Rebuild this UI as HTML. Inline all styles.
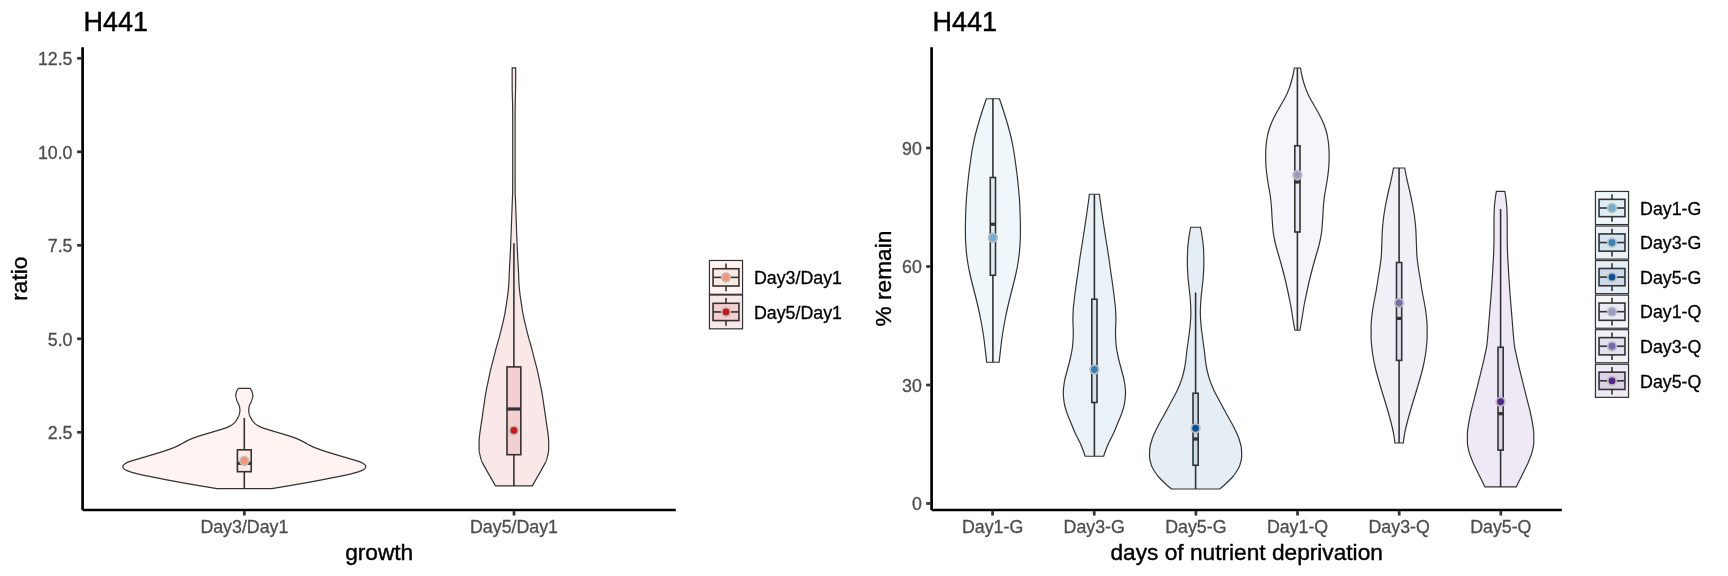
<!DOCTYPE html>
<html><head><meta charset="utf-8"><title>H441</title>
<style>html,body{margin:0;padding:0;background:#fff;}svg{display:block;will-change:transform;font-family:'Liberation Sans', sans-serif;}</style></head><body>
<svg width="1728" height="576" viewBox="0 0 1728 576">
<rect width="1728" height="576" fill="#ffffff"/>
<path d="M250.10,388.40 L250.68,389.15 L251.21,389.90 L251.65,390.65 L251.97,391.40 L252.19,392.15 L252.40,392.90 L252.58,393.65 L252.71,394.40 L252.79,395.15 L252.79,395.90 L252.72,396.65 L252.59,397.40 L252.41,398.15 L252.20,398.90 L251.96,399.65 L251.72,400.40 L251.48,401.15 L251.17,401.90 L250.79,402.65 L250.39,403.40 L250.00,404.15 L249.65,404.90 L249.39,405.65 L249.22,406.40 L249.06,407.15 L248.92,407.90 L248.81,408.65 L248.73,409.40 L248.70,410.15 L248.72,410.90 L248.79,411.65 L248.90,412.40 L249.04,413.15 L249.19,413.90 L249.36,414.65 L249.61,415.40 L249.93,416.15 L250.31,416.90 L250.72,417.65 L251.14,418.40 L251.56,419.15 L252.00,419.90 L252.48,420.65 L253.01,421.40 L253.61,422.15 L254.29,422.90 L255.11,423.65 L256.08,424.40 L257.18,425.15 L258.43,425.90 L259.81,426.65 L261.42,427.40 L263.46,428.15 L265.78,428.90 L268.19,429.65 L270.57,430.40 L273.06,431.15 L275.62,431.90 L278.19,432.65 L280.71,433.40 L283.26,434.15 L285.81,434.90 L288.26,435.65 L290.54,436.40 L292.70,437.15 L294.76,437.90 L296.70,438.65 L298.50,439.40 L300.13,440.15 L301.64,440.90 L303.07,441.65 L304.51,442.40 L305.92,443.15 L307.27,443.90 L308.60,444.65 L309.97,445.40 L311.43,446.15 L313.05,446.90 L314.83,447.65 L316.75,448.40 L318.79,449.15 L320.90,449.90 L323.06,450.65 L325.29,451.40 L327.63,452.15 L330.05,452.90 L332.52,453.65 L335.01,454.40 L337.50,455.15 L340.01,455.90 L342.57,456.65 L345.15,457.40 L347.70,458.15 L350.21,458.90 L352.71,459.65 L355.33,460.40 L357.86,461.15 L360.05,461.90 L361.74,462.65 L363.16,463.40 L364.24,464.15 L364.95,464.90 L365.52,465.65 L365.80,466.40 L365.68,467.15 L365.30,467.90 L364.78,468.65 L363.85,469.40 L362.51,470.15 L360.94,470.90 L358.93,471.65 L356.52,472.40 L353.85,473.15 L351.02,473.90 L347.89,474.65 L344.41,475.40 L340.70,476.15 L336.87,476.90 L333.05,477.65 L329.30,478.40 L325.49,479.15 L321.62,479.90 L317.69,480.65 L313.69,481.40 L309.63,482.15 L305.46,482.90 L301.19,483.65 L296.85,484.40 L292.49,485.15 L288.11,485.90 L283.69,486.65 L279.23,487.40 L274.73,488.15 L271.40,488.70 L217.20,488.70 L213.87,488.15 L209.37,487.40 L204.91,486.65 L200.49,485.90 L196.11,485.15 L191.75,484.40 L187.41,483.65 L183.14,482.90 L178.97,482.15 L174.91,481.40 L170.91,480.65 L166.98,479.90 L163.11,479.15 L159.30,478.40 L155.55,477.65 L151.73,476.90 L147.90,476.15 L144.19,475.40 L140.71,474.65 L137.58,473.90 L134.75,473.15 L132.08,472.40 L129.67,471.65 L127.66,470.90 L126.09,470.15 L124.75,469.40 L123.82,468.65 L123.30,467.90 L122.92,467.15 L122.80,466.40 L123.08,465.65 L123.65,464.90 L124.36,464.15 L125.44,463.40 L126.86,462.65 L128.55,461.90 L130.74,461.15 L133.27,460.40 L135.89,459.65 L138.39,458.90 L140.90,458.15 L143.45,457.40 L146.03,456.65 L148.59,455.90 L151.10,455.15 L153.59,454.40 L156.08,453.65 L158.55,452.90 L160.97,452.15 L163.31,451.40 L165.54,450.65 L167.70,449.90 L169.81,449.15 L171.85,448.40 L173.77,447.65 L175.55,446.90 L177.17,446.15 L178.63,445.40 L180.00,444.65 L181.33,443.90 L182.68,443.15 L184.09,442.40 L185.53,441.65 L186.96,440.90 L188.47,440.15 L190.10,439.40 L191.90,438.65 L193.84,437.90 L195.90,437.15 L198.06,436.40 L200.34,435.65 L202.79,434.90 L205.34,434.15 L207.89,433.40 L210.41,432.65 L212.98,431.90 L215.54,431.15 L218.03,430.40 L220.41,429.65 L222.82,428.90 L225.14,428.15 L227.18,427.40 L228.79,426.65 L230.17,425.90 L231.42,425.15 L232.52,424.40 L233.49,423.65 L234.31,422.90 L234.99,422.15 L235.59,421.40 L236.12,420.65 L236.60,419.90 L237.04,419.15 L237.46,418.40 L237.88,417.65 L238.29,416.90 L238.67,416.15 L238.99,415.40 L239.24,414.65 L239.41,413.90 L239.56,413.15 L239.70,412.40 L239.81,411.65 L239.88,410.90 L239.90,410.15 L239.87,409.40 L239.79,408.65 L239.68,407.90 L239.54,407.15 L239.38,406.40 L239.21,405.65 L238.95,404.90 L238.60,404.15 L238.21,403.40 L237.81,402.65 L237.43,401.90 L237.12,401.15 L236.88,400.40 L236.64,399.65 L236.40,398.90 L236.19,398.15 L236.01,397.40 L235.88,396.65 L235.81,395.90 L235.81,395.15 L235.89,394.40 L236.02,393.65 L236.20,392.90 L236.41,392.15 L236.63,391.40 L236.95,390.65 L237.39,389.90 L237.92,389.15 L238.50,388.40Z" fill="#fff4f1" stroke="#333333" stroke-width="1.2" stroke-linejoin="miter"/>
<path d="M244.30,418.10V449.80M244.30,471.70V488.70" stroke="#333333" stroke-width="1.6" fill="none"/>
<rect x="237.38" y="449.80" width="13.85" height="21.90" fill="#fee8e2" stroke="#333333" stroke-width="1.6"/>
<path d="M237.38,463.30H251.23" stroke="#333333" stroke-width="3.20" fill="none"/>
<circle cx="244.30" cy="460.80" r="4.3" fill="#fc9272" stroke="#bdbdbd" stroke-width="1.75"/>
<path d="M515.65,67.90 L515.65,68.65 L515.65,69.40 L515.65,70.15 L515.65,70.90 L515.65,71.65 L515.65,72.40 L515.65,73.15 L515.65,73.90 L515.65,74.65 L515.65,75.40 L515.65,76.15 L515.65,76.90 L515.65,77.65 L515.65,78.40 L515.65,79.15 L515.65,79.90 L515.65,80.65 L515.65,81.40 L515.65,82.15 L515.64,82.90 L515.64,83.65 L515.63,84.40 L515.63,85.15 L515.62,85.90 L515.61,86.65 L515.61,87.40 L515.60,88.15 L515.59,88.90 L515.58,89.65 L515.56,90.40 L515.55,91.15 L515.53,91.90 L515.51,92.65 L515.49,93.40 L515.47,94.15 L515.45,94.90 L515.43,95.65 L515.41,96.40 L515.40,97.15 L515.38,97.90 L515.36,98.65 L515.34,99.40 L515.31,100.15 L515.29,100.90 L515.27,101.65 L515.25,102.40 L515.23,103.15 L515.21,103.90 L515.20,104.65 L515.19,105.40 L515.18,106.15 L515.17,106.90 L515.16,107.65 L515.16,108.40 L515.15,109.15 L515.15,109.90 L515.14,110.65 L515.13,111.40 L515.13,112.15 L515.12,112.90 L515.12,113.65 L515.12,114.40 L515.11,115.15 L515.11,115.90 L515.11,116.65 L515.10,117.40 L515.10,118.15 L515.10,118.90 L515.10,119.65 L515.10,120.40 L515.10,121.15 L515.10,121.90 L515.10,122.65 L515.10,123.40 L515.10,124.15 L515.10,124.90 L515.10,125.65 L515.10,126.40 L515.10,127.15 L515.10,127.90 L515.10,128.65 L515.10,129.40 L515.10,130.15 L515.10,130.90 L515.10,131.65 L515.10,132.40 L515.10,133.15 L515.10,133.90 L515.10,134.65 L515.10,135.40 L515.10,136.15 L515.10,136.90 L515.10,137.65 L515.10,138.40 L515.10,139.15 L515.10,139.90 L515.10,140.65 L515.10,141.40 L515.10,142.15 L515.10,142.90 L515.10,143.65 L515.10,144.40 L515.10,145.15 L515.10,145.90 L515.10,146.65 L515.10,147.40 L515.10,148.15 L515.10,148.90 L515.10,149.65 L515.10,150.40 L515.10,151.15 L515.10,151.90 L515.10,152.65 L515.10,153.40 L515.10,154.15 L515.10,154.90 L515.10,155.65 L515.10,156.40 L515.10,157.15 L515.10,157.90 L515.10,158.65 L515.10,159.40 L515.10,160.15 L515.10,160.90 L515.10,161.65 L515.10,162.40 L515.10,163.15 L515.10,163.90 L515.10,164.65 L515.10,165.40 L515.10,166.15 L515.10,166.90 L515.10,167.65 L515.10,168.40 L515.10,169.15 L515.10,169.90 L515.10,170.65 L515.10,171.40 L515.10,172.15 L515.10,172.90 L515.10,173.65 L515.10,174.40 L515.10,175.15 L515.10,175.90 L515.10,176.65 L515.11,177.40 L515.11,178.15 L515.11,178.90 L515.11,179.65 L515.11,180.40 L515.11,181.15 L515.12,181.90 L515.12,182.65 L515.12,183.40 L515.12,184.15 L515.13,184.90 L515.13,185.65 L515.13,186.40 L515.13,187.15 L515.14,187.90 L515.14,188.65 L515.14,189.40 L515.15,190.15 L515.15,190.90 L515.16,191.65 L515.17,192.40 L515.19,193.15 L515.21,193.90 L515.23,194.65 L515.26,195.40 L515.29,196.15 L515.32,196.90 L515.35,197.65 L515.39,198.40 L515.42,199.15 L515.45,199.90 L515.48,200.65 L515.51,201.40 L515.53,202.15 L515.56,202.90 L515.59,203.65 L515.62,204.40 L515.65,205.15 L515.68,205.90 L515.70,206.65 L515.73,207.40 L515.76,208.15 L515.79,208.90 L515.82,209.65 L515.85,210.40 L515.88,211.15 L515.91,211.90 L515.94,212.65 L515.96,213.40 L515.99,214.15 L516.02,214.90 L516.04,215.65 L516.07,216.40 L516.10,217.15 L516.12,217.90 L516.15,218.65 L516.18,219.40 L516.20,220.15 L516.23,220.90 L516.26,221.65 L516.28,222.40 L516.31,223.15 L516.34,223.90 L516.36,224.65 L516.39,225.40 L516.42,226.15 L516.44,226.90 L516.47,227.65 L516.50,228.40 L516.52,229.15 L516.55,229.90 L516.58,230.65 L516.61,231.40 L516.64,232.15 L516.67,232.90 L516.69,233.65 L516.72,234.40 L516.75,235.15 L516.78,235.90 L516.81,236.65 L516.84,237.40 L516.87,238.15 L516.90,238.90 L516.93,239.65 L516.96,240.40 L516.99,241.15 L517.01,241.90 L517.04,242.65 L517.08,243.40 L517.11,244.15 L517.14,244.90 L517.17,245.65 L517.20,246.40 L517.23,247.15 L517.26,247.90 L517.29,248.65 L517.33,249.40 L517.36,250.15 L517.39,250.90 L517.43,251.65 L517.46,252.40 L517.49,253.15 L517.53,253.90 L517.56,254.65 L517.60,255.40 L517.64,256.15 L517.68,256.90 L517.72,257.65 L517.76,258.40 L517.80,259.15 L517.84,259.90 L517.89,260.65 L517.93,261.40 L517.97,262.15 L518.02,262.90 L518.06,263.65 L518.10,264.40 L518.15,265.15 L518.19,265.90 L518.23,266.65 L518.27,267.40 L518.31,268.15 L518.35,268.90 L518.39,269.65 L518.43,270.40 L518.46,271.15 L518.50,271.90 L518.53,272.65 L518.57,273.40 L518.60,274.15 L518.63,274.90 L518.65,275.65 L518.67,276.40 L518.70,277.15 L518.72,277.90 L518.75,278.65 L518.77,279.40 L518.81,280.15 L518.84,280.90 L518.88,281.65 L518.93,282.40 L518.97,283.15 L519.02,283.90 L519.08,284.65 L519.13,285.40 L519.19,286.15 L519.25,286.90 L519.32,287.65 L519.38,288.40 L519.45,289.15 L519.52,289.90 L519.59,290.65 L519.66,291.40 L519.74,292.15 L519.82,292.90 L519.91,293.65 L520.00,294.40 L520.10,295.15 L520.20,295.90 L520.31,296.65 L520.42,297.40 L520.53,298.15 L520.64,298.90 L520.76,299.65 L520.87,300.40 L520.98,301.15 L521.10,301.90 L521.21,302.65 L521.32,303.40 L521.43,304.15 L521.54,304.90 L521.65,305.65 L521.76,306.40 L521.88,307.15 L521.99,307.90 L522.11,308.65 L522.23,309.40 L522.35,310.15 L522.47,310.90 L522.60,311.65 L522.73,312.40 L522.86,313.15 L523.00,313.90 L523.14,314.65 L523.29,315.40 L523.44,316.15 L523.60,316.90 L523.77,317.65 L523.93,318.40 L524.10,319.15 L524.27,319.90 L524.45,320.65 L524.62,321.40 L524.80,322.15 L524.98,322.90 L525.16,323.65 L525.34,324.40 L525.51,325.15 L525.69,325.90 L525.87,326.65 L526.04,327.40 L526.22,328.15 L526.41,328.90 L526.59,329.65 L526.77,330.40 L526.96,331.15 L527.14,331.90 L527.33,332.65 L527.52,333.40 L527.71,334.15 L527.91,334.90 L528.10,335.65 L528.30,336.40 L528.50,337.15 L528.71,337.90 L528.91,338.65 L529.13,339.40 L529.34,340.15 L529.56,340.90 L529.78,341.65 L530.00,342.40 L530.21,343.15 L530.43,343.90 L530.65,344.65 L530.86,345.40 L531.07,346.15 L531.28,346.90 L531.49,347.65 L531.69,348.40 L531.89,349.15 L532.08,349.90 L532.28,350.65 L532.47,351.40 L532.66,352.15 L532.85,352.90 L533.04,353.65 L533.23,354.40 L533.42,355.15 L533.61,355.90 L533.80,356.65 L533.99,357.40 L534.18,358.15 L534.37,358.90 L534.57,359.65 L534.76,360.40 L534.96,361.15 L535.16,361.90 L535.36,362.65 L535.55,363.40 L535.75,364.15 L535.95,364.90 L536.15,365.65 L536.34,366.40 L536.53,367.15 L536.72,367.90 L536.91,368.65 L537.09,369.40 L537.27,370.15 L537.44,370.90 L537.61,371.65 L537.78,372.40 L537.94,373.15 L538.10,373.90 L538.26,374.65 L538.42,375.40 L538.58,376.15 L538.73,376.90 L538.89,377.65 L539.04,378.40 L539.19,379.15 L539.35,379.90 L539.50,380.65 L539.66,381.40 L539.81,382.15 L539.97,382.90 L540.13,383.65 L540.29,384.40 L540.45,385.15 L540.61,385.90 L540.77,386.65 L540.93,387.40 L541.09,388.15 L541.24,388.90 L541.39,389.65 L541.54,390.40 L541.68,391.15 L541.82,391.90 L541.96,392.65 L542.09,393.40 L542.21,394.15 L542.33,394.90 L542.45,395.65 L542.56,396.40 L542.67,397.15 L542.78,397.90 L542.89,398.65 L543.00,399.40 L543.11,400.15 L543.21,400.90 L543.32,401.65 L543.43,402.40 L543.54,403.15 L543.65,403.90 L543.77,404.65 L543.89,405.40 L544.01,406.15 L544.12,406.90 L544.24,407.65 L544.36,408.40 L544.47,409.15 L544.59,409.90 L544.69,410.65 L544.80,411.40 L544.90,412.15 L545.00,412.90 L545.10,413.65 L545.19,414.40 L545.29,415.15 L545.39,415.90 L545.49,416.65 L545.60,417.40 L545.71,418.15 L545.82,418.90 L545.93,419.65 L546.05,420.40 L546.16,421.15 L546.28,421.90 L546.40,422.65 L546.51,423.40 L546.63,424.15 L546.74,424.90 L546.85,425.65 L546.96,426.40 L547.07,427.15 L547.18,427.90 L547.29,428.65 L547.40,429.40 L547.51,430.15 L547.62,430.90 L547.73,431.65 L547.83,432.40 L547.92,433.15 L548.01,433.90 L548.09,434.65 L548.18,435.40 L548.26,436.15 L548.35,436.90 L548.43,437.65 L548.51,438.40 L548.58,439.15 L548.64,439.90 L548.68,440.65 L548.70,441.40 L548.70,442.15 L548.70,442.90 L548.70,443.65 L548.70,444.40 L548.70,445.15 L548.70,445.90 L548.70,446.65 L548.70,447.40 L548.70,448.15 L548.70,448.90 L548.67,449.65 L548.62,450.40 L548.54,451.15 L548.44,451.90 L548.32,452.65 L548.18,453.40 L548.02,454.15 L547.85,454.90 L547.67,455.65 L547.49,456.40 L547.29,457.15 L547.09,457.90 L546.89,458.65 L546.69,459.40 L546.44,460.15 L546.16,460.90 L545.85,461.65 L545.51,462.40 L545.14,463.15 L544.75,463.90 L544.35,464.65 L543.93,465.40 L543.51,466.15 L543.08,466.90 L542.66,467.65 L542.24,468.40 L541.83,469.15 L541.43,469.90 L541.03,470.65 L540.61,471.40 L540.19,472.15 L539.76,472.90 L539.32,473.65 L538.89,474.40 L538.45,475.15 L538.01,475.90 L537.58,476.65 L537.14,477.40 L536.71,478.15 L536.29,478.90 L535.86,479.65 L535.43,480.40 L535.01,481.15 L534.58,481.90 L534.15,482.65 L533.72,483.40 L533.30,484.15 L532.87,484.90 L532.44,485.65 L532.30,485.90 L495.50,485.90 L495.36,485.65 L494.93,484.90 L494.50,484.15 L494.08,483.40 L493.65,482.65 L493.22,481.90 L492.79,481.15 L492.37,480.40 L491.94,479.65 L491.51,478.90 L491.09,478.15 L490.66,477.40 L490.22,476.65 L489.79,475.90 L489.35,475.15 L488.91,474.40 L488.48,473.65 L488.04,472.90 L487.61,472.15 L487.19,471.40 L486.77,470.65 L486.37,469.90 L485.97,469.15 L485.56,468.40 L485.14,467.65 L484.72,466.90 L484.29,466.15 L483.87,465.40 L483.45,464.65 L483.05,463.90 L482.66,463.15 L482.29,462.40 L481.95,461.65 L481.64,460.90 L481.36,460.15 L481.11,459.40 L480.91,458.65 L480.71,457.90 L480.51,457.15 L480.31,456.40 L480.13,455.65 L479.95,454.90 L479.78,454.15 L479.62,453.40 L479.48,452.65 L479.36,451.90 L479.26,451.15 L479.18,450.40 L479.13,449.65 L479.10,448.90 L479.10,448.15 L479.10,447.40 L479.10,446.65 L479.10,445.90 L479.10,445.15 L479.10,444.40 L479.10,443.65 L479.10,442.90 L479.10,442.15 L479.10,441.40 L479.12,440.65 L479.16,439.90 L479.22,439.15 L479.29,438.40 L479.37,437.65 L479.45,436.90 L479.54,436.15 L479.62,435.40 L479.71,434.65 L479.79,433.90 L479.88,433.15 L479.97,432.40 L480.07,431.65 L480.18,430.90 L480.29,430.15 L480.40,429.40 L480.51,428.65 L480.62,427.90 L480.73,427.15 L480.84,426.40 L480.95,425.65 L481.06,424.90 L481.17,424.15 L481.29,423.40 L481.40,422.65 L481.52,421.90 L481.64,421.15 L481.75,420.40 L481.87,419.65 L481.98,418.90 L482.09,418.15 L482.20,417.40 L482.31,416.65 L482.41,415.90 L482.51,415.15 L482.61,414.40 L482.70,413.65 L482.80,412.90 L482.90,412.15 L483.00,411.40 L483.11,410.65 L483.21,409.90 L483.33,409.15 L483.44,408.40 L483.56,407.65 L483.68,406.90 L483.79,406.15 L483.91,405.40 L484.03,404.65 L484.15,403.90 L484.26,403.15 L484.37,402.40 L484.48,401.65 L484.59,400.90 L484.69,400.15 L484.80,399.40 L484.91,398.65 L485.02,397.90 L485.13,397.15 L485.24,396.40 L485.35,395.65 L485.47,394.90 L485.59,394.15 L485.71,393.40 L485.84,392.65 L485.98,391.90 L486.12,391.15 L486.26,390.40 L486.41,389.65 L486.56,388.90 L486.71,388.15 L486.87,387.40 L487.03,386.65 L487.19,385.90 L487.35,385.15 L487.51,384.40 L487.67,383.65 L487.83,382.90 L487.99,382.15 L488.14,381.40 L488.30,380.65 L488.45,379.90 L488.61,379.15 L488.76,378.40 L488.91,377.65 L489.07,376.90 L489.22,376.15 L489.38,375.40 L489.54,374.65 L489.70,373.90 L489.86,373.15 L490.02,372.40 L490.19,371.65 L490.36,370.90 L490.53,370.15 L490.71,369.40 L490.89,368.65 L491.08,367.90 L491.27,367.15 L491.46,366.40 L491.65,365.65 L491.85,364.90 L492.05,364.15 L492.25,363.40 L492.44,362.65 L492.64,361.90 L492.84,361.15 L493.04,360.40 L493.23,359.65 L493.43,358.90 L493.62,358.15 L493.81,357.40 L494.00,356.65 L494.19,355.90 L494.38,355.15 L494.57,354.40 L494.76,353.65 L494.95,352.90 L495.14,352.15 L495.33,351.40 L495.52,350.65 L495.72,349.90 L495.91,349.15 L496.11,348.40 L496.31,347.65 L496.52,346.90 L496.73,346.15 L496.94,345.40 L497.15,344.65 L497.37,343.90 L497.59,343.15 L497.80,342.40 L498.02,341.65 L498.24,340.90 L498.46,340.15 L498.67,339.40 L498.89,338.65 L499.09,337.90 L499.30,337.15 L499.50,336.40 L499.70,335.65 L499.89,334.90 L500.09,334.15 L500.28,333.40 L500.47,332.65 L500.66,331.90 L500.84,331.15 L501.03,330.40 L501.21,329.65 L501.39,328.90 L501.58,328.15 L501.76,327.40 L501.93,326.65 L502.11,325.90 L502.29,325.15 L502.46,324.40 L502.64,323.65 L502.82,322.90 L503.00,322.15 L503.18,321.40 L503.35,320.65 L503.53,319.90 L503.70,319.15 L503.87,318.40 L504.03,317.65 L504.20,316.90 L504.36,316.15 L504.51,315.40 L504.66,314.65 L504.80,313.90 L504.94,313.15 L505.07,312.40 L505.20,311.65 L505.33,310.90 L505.45,310.15 L505.57,309.40 L505.69,308.65 L505.81,307.90 L505.92,307.15 L506.04,306.40 L506.15,305.65 L506.26,304.90 L506.37,304.15 L506.48,303.40 L506.59,302.65 L506.70,301.90 L506.82,301.15 L506.93,300.40 L507.04,299.65 L507.16,298.90 L507.27,298.15 L507.38,297.40 L507.49,296.65 L507.60,295.90 L507.70,295.15 L507.80,294.40 L507.89,293.65 L507.98,292.90 L508.06,292.15 L508.14,291.40 L508.21,290.65 L508.28,289.90 L508.35,289.15 L508.42,288.40 L508.48,287.65 L508.55,286.90 L508.61,286.15 L508.67,285.40 L508.72,284.65 L508.78,283.90 L508.83,283.15 L508.87,282.40 L508.92,281.65 L508.96,280.90 L508.99,280.15 L509.03,279.40 L509.05,278.65 L509.08,277.90 L509.10,277.15 L509.13,276.40 L509.15,275.65 L509.17,274.90 L509.20,274.15 L509.23,273.40 L509.27,272.65 L509.30,271.90 L509.34,271.15 L509.37,270.40 L509.41,269.65 L509.45,268.90 L509.49,268.15 L509.53,267.40 L509.57,266.65 L509.61,265.90 L509.65,265.15 L509.70,264.40 L509.74,263.65 L509.78,262.90 L509.83,262.15 L509.87,261.40 L509.91,260.65 L509.96,259.90 L510.00,259.15 L510.04,258.40 L510.08,257.65 L510.12,256.90 L510.16,256.15 L510.20,255.40 L510.24,254.65 L510.27,253.90 L510.31,253.15 L510.34,252.40 L510.37,251.65 L510.41,250.90 L510.44,250.15 L510.47,249.40 L510.51,248.65 L510.54,247.90 L510.57,247.15 L510.60,246.40 L510.63,245.65 L510.66,244.90 L510.69,244.15 L510.72,243.40 L510.76,242.65 L510.79,241.90 L510.81,241.15 L510.84,240.40 L510.87,239.65 L510.90,238.90 L510.93,238.15 L510.96,237.40 L510.99,236.65 L511.02,235.90 L511.05,235.15 L511.08,234.40 L511.11,233.65 L511.13,232.90 L511.16,232.15 L511.19,231.40 L511.22,230.65 L511.25,229.90 L511.28,229.15 L511.30,228.40 L511.33,227.65 L511.36,226.90 L511.38,226.15 L511.41,225.40 L511.44,224.65 L511.46,223.90 L511.49,223.15 L511.52,222.40 L511.54,221.65 L511.57,220.90 L511.60,220.15 L511.62,219.40 L511.65,218.65 L511.68,217.90 L511.70,217.15 L511.73,216.40 L511.76,215.65 L511.78,214.90 L511.81,214.15 L511.84,213.40 L511.86,212.65 L511.89,211.90 L511.92,211.15 L511.95,210.40 L511.98,209.65 L512.01,208.90 L512.04,208.15 L512.07,207.40 L512.10,206.65 L512.12,205.90 L512.15,205.15 L512.18,204.40 L512.21,203.65 L512.24,202.90 L512.27,202.15 L512.29,201.40 L512.32,200.65 L512.35,199.90 L512.38,199.15 L512.41,198.40 L512.45,197.65 L512.48,196.90 L512.51,196.15 L512.54,195.40 L512.57,194.65 L512.59,193.90 L512.61,193.15 L512.63,192.40 L512.64,191.65 L512.65,190.90 L512.65,190.15 L512.66,189.40 L512.66,188.65 L512.66,187.90 L512.67,187.15 L512.67,186.40 L512.67,185.65 L512.67,184.90 L512.68,184.15 L512.68,183.40 L512.68,182.65 L512.68,181.90 L512.69,181.15 L512.69,180.40 L512.69,179.65 L512.69,178.90 L512.69,178.15 L512.69,177.40 L512.70,176.65 L512.70,175.90 L512.70,175.15 L512.70,174.40 L512.70,173.65 L512.70,172.90 L512.70,172.15 L512.70,171.40 L512.70,170.65 L512.70,169.90 L512.70,169.15 L512.70,168.40 L512.70,167.65 L512.70,166.90 L512.70,166.15 L512.70,165.40 L512.70,164.65 L512.70,163.90 L512.70,163.15 L512.70,162.40 L512.70,161.65 L512.70,160.90 L512.70,160.15 L512.70,159.40 L512.70,158.65 L512.70,157.90 L512.70,157.15 L512.70,156.40 L512.70,155.65 L512.70,154.90 L512.70,154.15 L512.70,153.40 L512.70,152.65 L512.70,151.90 L512.70,151.15 L512.70,150.40 L512.70,149.65 L512.70,148.90 L512.70,148.15 L512.70,147.40 L512.70,146.65 L512.70,145.90 L512.70,145.15 L512.70,144.40 L512.70,143.65 L512.70,142.90 L512.70,142.15 L512.70,141.40 L512.70,140.65 L512.70,139.90 L512.70,139.15 L512.70,138.40 L512.70,137.65 L512.70,136.90 L512.70,136.15 L512.70,135.40 L512.70,134.65 L512.70,133.90 L512.70,133.15 L512.70,132.40 L512.70,131.65 L512.70,130.90 L512.70,130.15 L512.70,129.40 L512.70,128.65 L512.70,127.90 L512.70,127.15 L512.70,126.40 L512.70,125.65 L512.70,124.90 L512.70,124.15 L512.70,123.40 L512.70,122.65 L512.70,121.90 L512.70,121.15 L512.70,120.40 L512.70,119.65 L512.70,118.90 L512.70,118.15 L512.70,117.40 L512.69,116.65 L512.69,115.90 L512.69,115.15 L512.68,114.40 L512.68,113.65 L512.68,112.90 L512.67,112.15 L512.67,111.40 L512.66,110.65 L512.65,109.90 L512.65,109.15 L512.64,108.40 L512.64,107.65 L512.63,106.90 L512.62,106.15 L512.61,105.40 L512.60,104.65 L512.59,103.90 L512.57,103.15 L512.55,102.40 L512.53,101.65 L512.51,100.90 L512.49,100.15 L512.46,99.40 L512.44,98.65 L512.42,97.90 L512.40,97.15 L512.39,96.40 L512.37,95.65 L512.35,94.90 L512.33,94.15 L512.31,93.40 L512.29,92.65 L512.27,91.90 L512.25,91.15 L512.24,90.40 L512.22,89.65 L512.21,88.90 L512.20,88.15 L512.19,87.40 L512.19,86.65 L512.18,85.90 L512.17,85.15 L512.17,84.40 L512.16,83.65 L512.16,82.90 L512.15,82.15 L512.15,81.40 L512.15,80.65 L512.15,79.90 L512.15,79.15 L512.15,78.40 L512.15,77.65 L512.15,76.90 L512.15,76.15 L512.15,75.40 L512.15,74.65 L512.15,73.90 L512.15,73.15 L512.15,72.40 L512.15,71.65 L512.15,70.90 L512.15,70.15 L512.15,69.40 L512.15,68.65 L512.15,67.90Z" fill="#fae8e8" stroke="#333333" stroke-width="1.2" stroke-linejoin="miter"/>
<path d="M513.90,243.30V366.90M513.90,454.70V485.90" stroke="#333333" stroke-width="1.6" fill="none"/>
<rect x="506.97" y="366.90" width="13.85" height="87.80" fill="#f4cfd0" stroke="#333333" stroke-width="1.6"/>
<path d="M506.97,409.00H520.82" stroke="#333333" stroke-width="3.20" fill="none"/>
<circle cx="513.90" cy="430.40" r="4.3" fill="#cb181d" stroke="#bdbdbd" stroke-width="1.75"/>
<path d="M82.60,47.20V510.00" stroke="#000" stroke-width="2.7" fill="none"/>
<path d="M82.60,510.00H675.80" stroke="#000" stroke-width="2.7" fill="none"/>
<path d="M77.15,58.30H81.55" stroke="#333333" stroke-width="2.7" fill="none"/>
<text x="72.50" y="65.10" font-size="17.8" fill="#4d4d4d" stroke="#4d4d4d" stroke-width="0.3" text-anchor="end">12.5</text>
<path d="M77.15,151.80H81.55" stroke="#333333" stroke-width="2.7" fill="none"/>
<text x="72.50" y="158.60" font-size="17.8" fill="#4d4d4d" stroke="#4d4d4d" stroke-width="0.3" text-anchor="end">10.0</text>
<path d="M77.15,245.30H81.55" stroke="#333333" stroke-width="2.7" fill="none"/>
<text x="72.50" y="252.10" font-size="17.8" fill="#4d4d4d" stroke="#4d4d4d" stroke-width="0.3" text-anchor="end">7.5</text>
<path d="M77.15,338.80H81.55" stroke="#333333" stroke-width="2.7" fill="none"/>
<text x="72.50" y="345.60" font-size="17.8" fill="#4d4d4d" stroke="#4d4d4d" stroke-width="0.3" text-anchor="end">5.0</text>
<path d="M77.15,432.30H81.55" stroke="#333333" stroke-width="2.7" fill="none"/>
<text x="72.50" y="439.10" font-size="17.8" fill="#4d4d4d" stroke="#4d4d4d" stroke-width="0.3" text-anchor="end">2.5</text>
<path d="M244.38,511.05V515.55" stroke="#333333" stroke-width="2.7" fill="none"/>
<text x="244.38" y="532.90" font-size="17.8" fill="#4d4d4d" stroke="#4d4d4d" stroke-width="0.3" text-anchor="middle">Day3/Day1</text>
<path d="M514.02,511.05V515.55" stroke="#333333" stroke-width="2.7" fill="none"/>
<text x="514.02" y="532.90" font-size="17.8" fill="#4d4d4d" stroke="#4d4d4d" stroke-width="0.3" text-anchor="middle">Day5/Day1</text>
<text x="83.40" y="30.90" font-size="27.0" fill="#000" stroke="#000" stroke-width="0.4" text-anchor="start">H441</text>
<text x="379.20" y="559.70" font-size="22.7" fill="#000" stroke="#000" stroke-width="0.4" text-anchor="middle">growth</text>
<text x="27.10" y="278.60" font-size="22.7" fill="#000" stroke="#000" stroke-width="0.4" text-anchor="middle" transform="rotate(-90 27.10 278.60)">ratio</text>
<rect x="709.45" y="260.48" width="33.10" height="33.80" fill="#fff4f1" stroke="#333333" stroke-width="1.2"/>
<path d="M726.00,263.56V268.74M726.00,286.02V291.20" stroke="#333333" stroke-width="1.6" fill="none"/>
<rect x="713.04" y="268.74" width="25.92" height="17.28" fill="#fee8e2" stroke="#333333" stroke-width="1.6"/>
<path d="M713.04,277.38H738.96" stroke="#333333" stroke-width="1.6" fill="none"/>
<circle cx="726.00" cy="277.38" r="4.3" fill="#fc9272" stroke="#bdbdbd" stroke-width="1.75"/>
<text x="754.00" y="284.13" font-size="17.8" fill="#000" stroke="#000" stroke-width="0.3" text-anchor="start">Day3/Day1</text>
<rect x="709.45" y="295.04" width="33.10" height="33.80" fill="#fae8e8" stroke="#333333" stroke-width="1.2"/>
<path d="M726.00,298.12V303.30M726.00,320.58V325.76" stroke="#333333" stroke-width="1.6" fill="none"/>
<rect x="713.04" y="303.30" width="25.92" height="17.28" fill="#f4cfd0" stroke="#333333" stroke-width="1.6"/>
<path d="M713.04,311.94H738.96" stroke="#333333" stroke-width="1.6" fill="none"/>
<circle cx="726.00" cy="311.94" r="4.3" fill="#cb181d" stroke="#bdbdbd" stroke-width="1.75"/>
<text x="754.00" y="318.69" font-size="17.8" fill="#000" stroke="#000" stroke-width="0.3" text-anchor="start">Day5/Day1</text>
<path d="M999.40,98.75 L999.66,99.50 L999.93,100.25 L1000.19,101.00 L1000.45,101.75 L1000.70,102.50 L1000.96,103.25 L1001.22,104.00 L1001.47,104.75 L1001.72,105.50 L1001.97,106.25 L1002.22,107.00 L1002.47,107.75 L1002.72,108.50 L1002.96,109.25 L1003.21,110.00 L1003.45,110.75 L1003.69,111.50 L1003.93,112.25 L1004.17,113.00 L1004.41,113.75 L1004.64,114.50 L1004.88,115.25 L1005.11,116.00 L1005.34,116.75 L1005.58,117.50 L1005.81,118.25 L1006.03,119.00 L1006.26,119.75 L1006.49,120.50 L1006.71,121.25 L1006.94,122.00 L1007.16,122.75 L1007.37,123.50 L1007.59,124.25 L1007.80,125.00 L1008.02,125.75 L1008.23,126.50 L1008.43,127.25 L1008.64,128.00 L1008.84,128.75 L1009.04,129.50 L1009.24,130.25 L1009.44,131.00 L1009.64,131.75 L1009.84,132.50 L1010.04,133.25 L1010.23,134.00 L1010.42,134.75 L1010.60,135.50 L1010.79,136.25 L1010.97,137.00 L1011.15,137.75 L1011.32,138.50 L1011.49,139.25 L1011.65,140.00 L1011.81,140.75 L1011.97,141.50 L1012.12,142.25 L1012.28,143.00 L1012.42,143.75 L1012.57,144.50 L1012.72,145.25 L1012.86,146.00 L1013.00,146.75 L1013.14,147.50 L1013.27,148.25 L1013.41,149.00 L1013.54,149.75 L1013.67,150.50 L1013.79,151.25 L1013.92,152.00 L1014.04,152.75 L1014.16,153.50 L1014.28,154.25 L1014.39,155.00 L1014.51,155.75 L1014.62,156.50 L1014.73,157.25 L1014.84,158.00 L1014.94,158.75 L1015.05,159.50 L1015.15,160.25 L1015.26,161.00 L1015.36,161.75 L1015.46,162.50 L1015.56,163.25 L1015.66,164.00 L1015.77,164.75 L1015.87,165.50 L1015.97,166.25 L1016.07,167.00 L1016.17,167.75 L1016.27,168.50 L1016.37,169.25 L1016.47,170.00 L1016.57,170.75 L1016.67,171.50 L1016.77,172.25 L1016.86,173.00 L1016.95,173.75 L1017.05,174.50 L1017.14,175.25 L1017.23,176.00 L1017.31,176.75 L1017.40,177.50 L1017.48,178.25 L1017.57,179.00 L1017.65,179.75 L1017.73,180.50 L1017.81,181.25 L1017.88,182.00 L1017.96,182.75 L1018.04,183.50 L1018.11,184.25 L1018.18,185.00 L1018.26,185.75 L1018.33,186.50 L1018.40,187.25 L1018.47,188.00 L1018.54,188.75 L1018.61,189.50 L1018.67,190.25 L1018.74,191.00 L1018.81,191.75 L1018.87,192.50 L1018.94,193.25 L1019.01,194.00 L1019.08,194.75 L1019.14,195.50 L1019.21,196.25 L1019.27,197.00 L1019.33,197.75 L1019.39,198.50 L1019.44,199.25 L1019.50,200.00 L1019.55,200.75 L1019.59,201.50 L1019.64,202.25 L1019.68,203.00 L1019.72,203.75 L1019.75,204.50 L1019.79,205.25 L1019.82,206.00 L1019.86,206.75 L1019.89,207.50 L1019.92,208.25 L1019.95,209.00 L1019.98,209.75 L1020.01,210.50 L1020.03,211.25 L1020.06,212.00 L1020.08,212.75 L1020.11,213.50 L1020.13,214.25 L1020.15,215.00 L1020.17,215.75 L1020.19,216.50 L1020.21,217.25 L1020.23,218.00 L1020.25,218.75 L1020.27,219.50 L1020.29,220.25 L1020.31,221.00 L1020.33,221.75 L1020.34,222.50 L1020.36,223.25 L1020.37,224.00 L1020.38,224.75 L1020.39,225.50 L1020.40,226.25 L1020.40,227.00 L1020.40,227.75 L1020.40,228.50 L1020.40,229.25 L1020.39,230.00 L1020.39,230.75 L1020.38,231.50 L1020.38,232.25 L1020.37,233.00 L1020.36,233.75 L1020.36,234.50 L1020.35,235.25 L1020.34,236.00 L1020.33,236.75 L1020.32,237.50 L1020.30,238.25 L1020.29,239.00 L1020.27,239.75 L1020.25,240.50 L1020.21,241.25 L1020.18,242.00 L1020.14,242.75 L1020.09,243.50 L1020.04,244.25 L1019.99,245.00 L1019.94,245.75 L1019.88,246.50 L1019.82,247.25 L1019.76,248.00 L1019.69,248.75 L1019.63,249.50 L1019.56,250.25 L1019.50,251.00 L1019.43,251.75 L1019.36,252.50 L1019.29,253.25 L1019.21,254.00 L1019.12,254.75 L1019.03,255.50 L1018.94,256.25 L1018.84,257.00 L1018.74,257.75 L1018.64,258.50 L1018.54,259.25 L1018.43,260.00 L1018.32,260.75 L1018.21,261.50 L1018.09,262.25 L1017.98,263.00 L1017.86,263.75 L1017.74,264.50 L1017.61,265.25 L1017.48,266.00 L1017.34,266.75 L1017.20,267.50 L1017.05,268.25 L1016.90,269.00 L1016.75,269.75 L1016.60,270.50 L1016.44,271.25 L1016.28,272.00 L1016.12,272.75 L1015.95,273.50 L1015.79,274.25 L1015.62,275.00 L1015.46,275.75 L1015.29,276.50 L1015.12,277.25 L1014.94,278.00 L1014.76,278.75 L1014.58,279.50 L1014.40,280.25 L1014.21,281.00 L1014.02,281.75 L1013.83,282.50 L1013.64,283.25 L1013.45,284.00 L1013.25,284.75 L1013.06,285.50 L1012.87,286.25 L1012.68,287.00 L1012.49,287.75 L1012.30,288.50 L1012.11,289.25 L1011.92,290.00 L1011.73,290.75 L1011.54,291.50 L1011.35,292.25 L1011.16,293.00 L1010.96,293.75 L1010.77,294.50 L1010.58,295.25 L1010.39,296.00 L1010.20,296.75 L1010.01,297.50 L1009.82,298.25 L1009.64,299.00 L1009.45,299.75 L1009.27,300.50 L1009.09,301.25 L1008.91,302.00 L1008.73,302.75 L1008.55,303.50 L1008.38,304.25 L1008.20,305.00 L1008.02,305.75 L1007.85,306.50 L1007.68,307.25 L1007.50,308.00 L1007.33,308.75 L1007.17,309.50 L1007.00,310.25 L1006.83,311.00 L1006.67,311.75 L1006.51,312.50 L1006.35,313.25 L1006.20,314.00 L1006.04,314.75 L1005.89,315.50 L1005.74,316.25 L1005.59,317.00 L1005.44,317.75 L1005.29,318.50 L1005.14,319.25 L1005.00,320.00 L1004.86,320.75 L1004.71,321.50 L1004.57,322.25 L1004.44,323.00 L1004.30,323.75 L1004.17,324.50 L1004.03,325.25 L1003.90,326.00 L1003.77,326.75 L1003.64,327.50 L1003.51,328.25 L1003.38,329.00 L1003.26,329.75 L1003.13,330.50 L1003.01,331.25 L1002.88,332.00 L1002.76,332.75 L1002.64,333.50 L1002.52,334.25 L1002.41,335.00 L1002.29,335.75 L1002.18,336.50 L1002.08,337.25 L1001.97,338.00 L1001.87,338.75 L1001.77,339.50 L1001.67,340.25 L1001.57,341.00 L1001.48,341.75 L1001.38,342.50 L1001.29,343.25 L1001.20,344.00 L1001.12,344.75 L1001.03,345.50 L1000.94,346.25 L1000.86,347.00 L1000.77,347.75 L1000.69,348.50 L1000.60,349.25 L1000.51,350.00 L1000.43,350.75 L1000.34,351.50 L1000.26,352.25 L1000.17,353.00 L1000.09,353.75 L1000.00,354.50 L999.92,355.25 L999.83,356.00 L999.75,356.75 L999.67,357.50 L999.58,358.25 L999.50,359.00 L999.42,359.75 L999.34,360.50 L999.26,361.25 L999.18,362.00 L999.15,362.25 L986.65,362.25 L986.62,362.00 L986.54,361.25 L986.46,360.50 L986.38,359.75 L986.30,359.00 L986.22,358.25 L986.13,357.50 L986.05,356.75 L985.97,356.00 L985.88,355.25 L985.80,354.50 L985.71,353.75 L985.63,353.00 L985.54,352.25 L985.46,351.50 L985.37,350.75 L985.29,350.00 L985.20,349.25 L985.11,348.50 L985.03,347.75 L984.94,347.00 L984.86,346.25 L984.77,345.50 L984.68,344.75 L984.60,344.00 L984.51,343.25 L984.42,342.50 L984.32,341.75 L984.23,341.00 L984.13,340.25 L984.03,339.50 L983.93,338.75 L983.83,338.00 L983.72,337.25 L983.62,336.50 L983.51,335.75 L983.39,335.00 L983.28,334.25 L983.16,333.50 L983.04,332.75 L982.92,332.00 L982.79,331.25 L982.67,330.50 L982.54,329.75 L982.42,329.00 L982.29,328.25 L982.16,327.50 L982.03,326.75 L981.90,326.00 L981.77,325.25 L981.63,324.50 L981.50,323.75 L981.36,323.00 L981.23,322.25 L981.09,321.50 L980.94,320.75 L980.80,320.00 L980.66,319.25 L980.51,318.50 L980.36,317.75 L980.21,317.00 L980.06,316.25 L979.91,315.50 L979.76,314.75 L979.60,314.00 L979.45,313.25 L979.29,312.50 L979.13,311.75 L978.97,311.00 L978.80,310.25 L978.63,309.50 L978.47,308.75 L978.30,308.00 L978.12,307.25 L977.95,306.50 L977.78,305.75 L977.60,305.00 L977.42,304.25 L977.25,303.50 L977.07,302.75 L976.89,302.00 L976.71,301.25 L976.53,300.50 L976.35,299.75 L976.16,299.00 L975.98,298.25 L975.79,297.50 L975.60,296.75 L975.41,296.00 L975.22,295.25 L975.03,294.50 L974.84,293.75 L974.64,293.00 L974.45,292.25 L974.26,291.50 L974.07,290.75 L973.88,290.00 L973.69,289.25 L973.50,288.50 L973.31,287.75 L973.12,287.00 L972.93,286.25 L972.74,285.50 L972.55,284.75 L972.35,284.00 L972.16,283.25 L971.97,282.50 L971.78,281.75 L971.59,281.00 L971.40,280.25 L971.22,279.50 L971.04,278.75 L970.86,278.00 L970.68,277.25 L970.51,276.50 L970.34,275.75 L970.18,275.00 L970.01,274.25 L969.85,273.50 L969.68,272.75 L969.52,272.00 L969.36,271.25 L969.20,270.50 L969.05,269.75 L968.90,269.00 L968.75,268.25 L968.60,267.50 L968.46,266.75 L968.32,266.00 L968.19,265.25 L968.06,264.50 L967.94,263.75 L967.82,263.00 L967.71,262.25 L967.59,261.50 L967.48,260.75 L967.37,260.00 L967.26,259.25 L967.16,258.50 L967.06,257.75 L966.96,257.00 L966.86,256.25 L966.77,255.50 L966.68,254.75 L966.59,254.00 L966.51,253.25 L966.44,252.50 L966.37,251.75 L966.30,251.00 L966.24,250.25 L966.17,249.50 L966.11,248.75 L966.04,248.00 L965.98,247.25 L965.92,246.50 L965.86,245.75 L965.81,245.00 L965.76,244.25 L965.71,243.50 L965.66,242.75 L965.62,242.00 L965.59,241.25 L965.55,240.50 L965.53,239.75 L965.51,239.00 L965.50,238.25 L965.48,237.50 L965.47,236.75 L965.46,236.00 L965.45,235.25 L965.44,234.50 L965.44,233.75 L965.43,233.00 L965.42,232.25 L965.42,231.50 L965.41,230.75 L965.41,230.00 L965.40,229.25 L965.40,228.50 L965.40,227.75 L965.40,227.00 L965.40,226.25 L965.41,225.50 L965.42,224.75 L965.43,224.00 L965.44,223.25 L965.46,222.50 L965.47,221.75 L965.49,221.00 L965.51,220.25 L965.53,219.50 L965.55,218.75 L965.57,218.00 L965.59,217.25 L965.61,216.50 L965.63,215.75 L965.65,215.00 L965.67,214.25 L965.69,213.50 L965.72,212.75 L965.74,212.00 L965.76,211.25 L965.79,210.50 L965.82,209.75 L965.85,209.00 L965.88,208.25 L965.91,207.50 L965.94,206.75 L965.98,206.00 L966.01,205.25 L966.05,204.50 L966.08,203.75 L966.12,203.00 L966.16,202.25 L966.21,201.50 L966.25,200.75 L966.30,200.00 L966.36,199.25 L966.41,198.50 L966.47,197.75 L966.53,197.00 L966.59,196.25 L966.66,195.50 L966.72,194.75 L966.79,194.00 L966.86,193.25 L966.93,192.50 L966.99,191.75 L967.06,191.00 L967.13,190.25 L967.19,189.50 L967.26,188.75 L967.33,188.00 L967.40,187.25 L967.47,186.50 L967.54,185.75 L967.62,185.00 L967.69,184.25 L967.76,183.50 L967.84,182.75 L967.92,182.00 L967.99,181.25 L968.07,180.50 L968.15,179.75 L968.23,179.00 L968.32,178.25 L968.40,177.50 L968.49,176.75 L968.57,176.00 L968.66,175.25 L968.75,174.50 L968.85,173.75 L968.94,173.00 L969.03,172.25 L969.13,171.50 L969.23,170.75 L969.33,170.00 L969.43,169.25 L969.53,168.50 L969.63,167.75 L969.73,167.00 L969.83,166.25 L969.93,165.50 L970.03,164.75 L970.14,164.00 L970.24,163.25 L970.34,162.50 L970.44,161.75 L970.54,161.00 L970.65,160.25 L970.75,159.50 L970.86,158.75 L970.96,158.00 L971.07,157.25 L971.18,156.50 L971.29,155.75 L971.41,155.00 L971.52,154.25 L971.64,153.50 L971.76,152.75 L971.88,152.00 L972.01,151.25 L972.13,150.50 L972.26,149.75 L972.39,149.00 L972.53,148.25 L972.66,147.50 L972.80,146.75 L972.94,146.00 L973.08,145.25 L973.23,144.50 L973.38,143.75 L973.52,143.00 L973.68,142.25 L973.83,141.50 L973.99,140.75 L974.15,140.00 L974.31,139.25 L974.48,138.50 L974.65,137.75 L974.83,137.00 L975.01,136.25 L975.20,135.50 L975.38,134.75 L975.57,134.00 L975.76,133.25 L975.96,132.50 L976.16,131.75 L976.36,131.00 L976.56,130.25 L976.76,129.50 L976.96,128.75 L977.16,128.00 L977.37,127.25 L977.57,126.50 L977.78,125.75 L978.00,125.00 L978.21,124.25 L978.43,123.50 L978.64,122.75 L978.86,122.00 L979.09,121.25 L979.31,120.50 L979.54,119.75 L979.77,119.00 L979.99,118.25 L980.22,117.50 L980.46,116.75 L980.69,116.00 L980.92,115.25 L981.16,114.50 L981.39,113.75 L981.63,113.00 L981.87,112.25 L982.11,111.50 L982.35,110.75 L982.59,110.00 L982.84,109.25 L983.08,108.50 L983.33,107.75 L983.58,107.00 L983.83,106.25 L984.08,105.50 L984.33,104.75 L984.58,104.00 L984.84,103.25 L985.10,102.50 L985.35,101.75 L985.61,101.00 L985.87,100.25 L986.14,99.50 L986.40,98.75Z" fill="#f0f7fb" stroke="#333333" stroke-width="1.2" stroke-linejoin="miter"/>
<path d="M992.90,98.75V177.50M992.90,275.25V362.25" stroke="#333333" stroke-width="1.6" fill="none"/>
<rect x="990.30" y="177.50" width="5.20" height="97.75" fill="#e0eef6" stroke="#333333" stroke-width="1.6"/>
<path d="M990.30,224.25H995.50" stroke="#333333" stroke-width="3.20" fill="none"/>
<circle cx="992.90" cy="237.75" r="4.3" fill="#6baed6" stroke="#bdbdbd" stroke-width="1.75"/>
<path d="M1099.40,194.25 L1099.50,195.00 L1099.59,195.75 L1099.69,196.50 L1099.78,197.25 L1099.88,198.00 L1099.98,198.75 L1100.08,199.50 L1100.18,200.25 L1100.28,201.00 L1100.38,201.75 L1100.48,202.50 L1100.58,203.25 L1100.68,204.00 L1100.78,204.75 L1100.88,205.50 L1100.99,206.25 L1101.09,207.00 L1101.20,207.75 L1101.30,208.50 L1101.40,209.25 L1101.51,210.00 L1101.61,210.75 L1101.72,211.50 L1101.83,212.25 L1101.94,213.00 L1102.04,213.75 L1102.15,214.50 L1102.26,215.25 L1102.38,216.00 L1102.49,216.75 L1102.60,217.50 L1102.71,218.25 L1102.82,219.00 L1102.94,219.75 L1103.05,220.50 L1103.16,221.25 L1103.27,222.00 L1103.39,222.75 L1103.50,223.50 L1103.61,224.25 L1103.73,225.00 L1103.84,225.75 L1103.95,226.50 L1104.06,227.25 L1104.18,228.00 L1104.29,228.75 L1104.40,229.50 L1104.52,230.25 L1104.63,231.00 L1104.74,231.75 L1104.86,232.50 L1104.97,233.25 L1105.09,234.00 L1105.21,234.75 L1105.32,235.50 L1105.44,236.25 L1105.56,237.00 L1105.68,237.75 L1105.80,238.50 L1105.92,239.25 L1106.04,240.00 L1106.16,240.75 L1106.28,241.50 L1106.40,242.25 L1106.52,243.00 L1106.64,243.75 L1106.76,244.50 L1106.88,245.25 L1107.00,246.00 L1107.12,246.75 L1107.24,247.50 L1107.36,248.25 L1107.48,249.00 L1107.59,249.75 L1107.71,250.50 L1107.83,251.25 L1107.95,252.00 L1108.06,252.75 L1108.18,253.50 L1108.29,254.25 L1108.41,255.00 L1108.52,255.75 L1108.64,256.50 L1108.75,257.25 L1108.86,258.00 L1108.97,258.75 L1109.08,259.50 L1109.19,260.25 L1109.30,261.00 L1109.41,261.75 L1109.51,262.50 L1109.62,263.25 L1109.72,264.00 L1109.82,264.75 L1109.92,265.50 L1110.02,266.25 L1110.12,267.00 L1110.22,267.75 L1110.32,268.50 L1110.42,269.25 L1110.52,270.00 L1110.62,270.75 L1110.72,271.50 L1110.83,272.25 L1110.93,273.00 L1111.04,273.75 L1111.14,274.50 L1111.25,275.25 L1111.36,276.00 L1111.47,276.75 L1111.58,277.50 L1111.69,278.25 L1111.80,279.00 L1111.91,279.75 L1112.02,280.50 L1112.13,281.25 L1112.24,282.00 L1112.34,282.75 L1112.45,283.50 L1112.56,284.25 L1112.66,285.00 L1112.77,285.75 L1112.87,286.50 L1112.97,287.25 L1113.07,288.00 L1113.17,288.75 L1113.27,289.50 L1113.37,290.25 L1113.47,291.00 L1113.57,291.75 L1113.67,292.50 L1113.77,293.25 L1113.86,294.00 L1113.95,294.75 L1114.05,295.50 L1114.14,296.25 L1114.23,297.00 L1114.31,297.75 L1114.40,298.50 L1114.49,299.25 L1114.57,300.00 L1114.66,300.75 L1114.75,301.50 L1114.84,302.25 L1114.93,303.00 L1115.02,303.75 L1115.11,304.50 L1115.19,305.25 L1115.27,306.00 L1115.34,306.75 L1115.41,307.50 L1115.48,308.25 L1115.53,309.00 L1115.58,309.75 L1115.63,310.50 L1115.66,311.25 L1115.69,312.00 L1115.72,312.75 L1115.75,313.50 L1115.78,314.25 L1115.81,315.00 L1115.83,315.75 L1115.85,316.50 L1115.87,317.25 L1115.88,318.00 L1115.89,318.75 L1115.90,319.50 L1115.90,320.25 L1115.89,321.00 L1115.88,321.75 L1115.86,322.50 L1115.83,323.25 L1115.80,324.00 L1115.77,324.75 L1115.74,325.50 L1115.70,326.25 L1115.66,327.00 L1115.63,327.75 L1115.60,328.50 L1115.57,329.25 L1115.54,330.00 L1115.52,330.75 L1115.51,331.50 L1115.50,332.25 L1115.50,333.00 L1115.51,333.75 L1115.52,334.50 L1115.54,335.25 L1115.57,336.00 L1115.60,336.75 L1115.63,337.50 L1115.67,338.25 L1115.71,339.00 L1115.76,339.75 L1115.81,340.50 L1115.86,341.25 L1115.92,342.00 L1115.97,342.75 L1116.03,343.50 L1116.09,344.25 L1116.15,345.00 L1116.22,345.75 L1116.30,346.50 L1116.39,347.25 L1116.49,348.00 L1116.60,348.75 L1116.72,349.50 L1116.85,350.25 L1116.98,351.00 L1117.12,351.75 L1117.27,352.50 L1117.42,353.25 L1117.57,354.00 L1117.73,354.75 L1117.88,355.50 L1118.04,356.25 L1118.20,357.00 L1118.35,357.75 L1118.51,358.50 L1118.68,359.25 L1118.86,360.00 L1119.05,360.75 L1119.24,361.50 L1119.43,362.25 L1119.63,363.00 L1119.83,363.75 L1120.04,364.50 L1120.24,365.25 L1120.45,366.00 L1120.65,366.75 L1120.85,367.50 L1121.05,368.25 L1121.25,369.00 L1121.44,369.75 L1121.63,370.50 L1121.82,371.25 L1122.02,372.00 L1122.22,372.75 L1122.43,373.50 L1122.63,374.25 L1122.84,375.00 L1123.04,375.75 L1123.24,376.50 L1123.43,377.25 L1123.61,378.00 L1123.79,378.75 L1123.96,379.50 L1124.12,380.25 L1124.26,381.00 L1124.39,381.75 L1124.50,382.50 L1124.61,383.25 L1124.71,384.00 L1124.82,384.75 L1124.92,385.50 L1125.02,386.25 L1125.11,387.00 L1125.20,387.75 L1125.28,388.50 L1125.35,389.25 L1125.41,390.00 L1125.45,390.75 L1125.48,391.50 L1125.50,392.25 L1125.50,393.00 L1125.48,393.75 L1125.45,394.50 L1125.41,395.25 L1125.36,396.00 L1125.30,396.75 L1125.24,397.50 L1125.16,398.25 L1125.08,399.00 L1124.99,399.75 L1124.90,400.50 L1124.81,401.25 L1124.71,402.00 L1124.62,402.75 L1124.50,403.50 L1124.36,404.25 L1124.20,405.00 L1124.03,405.75 L1123.84,406.50 L1123.63,407.25 L1123.42,408.00 L1123.19,408.75 L1122.96,409.50 L1122.72,410.25 L1122.48,411.00 L1122.24,411.75 L1122.00,412.50 L1121.75,413.25 L1121.49,414.00 L1121.21,414.75 L1120.92,415.50 L1120.62,416.25 L1120.32,417.00 L1120.00,417.75 L1119.69,418.50 L1119.37,419.25 L1119.05,420.00 L1118.73,420.75 L1118.41,421.50 L1118.10,422.25 L1117.80,423.00 L1117.50,423.75 L1117.20,424.50 L1116.90,425.25 L1116.60,426.00 L1116.30,426.75 L1116.00,427.50 L1115.70,428.25 L1115.39,429.00 L1115.08,429.75 L1114.77,430.50 L1114.45,431.25 L1114.12,432.00 L1113.79,432.75 L1113.44,433.50 L1113.09,434.25 L1112.72,435.00 L1112.35,435.75 L1111.97,436.50 L1111.58,437.25 L1111.20,438.00 L1110.81,438.75 L1110.42,439.50 L1110.04,440.25 L1109.66,441.00 L1109.29,441.75 L1108.93,442.50 L1108.57,443.25 L1108.23,444.00 L1107.91,444.75 L1107.59,445.50 L1107.28,446.25 L1106.98,447.00 L1106.68,447.75 L1106.38,448.50 L1106.09,449.25 L1105.81,450.00 L1105.53,450.75 L1105.25,451.50 L1104.99,452.25 L1104.72,453.00 L1104.47,453.75 L1104.21,454.50 L1103.97,455.25 L1103.73,456.00 L1103.65,456.25 L1085.15,456.25 L1085.07,456.00 L1084.83,455.25 L1084.59,454.50 L1084.33,453.75 L1084.08,453.00 L1083.81,452.25 L1083.55,451.50 L1083.27,450.75 L1082.99,450.00 L1082.71,449.25 L1082.42,448.50 L1082.12,447.75 L1081.82,447.00 L1081.52,446.25 L1081.21,445.50 L1080.89,444.75 L1080.57,444.00 L1080.23,443.25 L1079.87,442.50 L1079.51,441.75 L1079.14,441.00 L1078.76,440.25 L1078.38,439.50 L1077.99,438.75 L1077.60,438.00 L1077.22,437.25 L1076.83,436.50 L1076.45,435.75 L1076.08,435.00 L1075.71,434.25 L1075.36,433.50 L1075.01,432.75 L1074.68,432.00 L1074.35,431.25 L1074.03,430.50 L1073.72,429.75 L1073.41,429.00 L1073.10,428.25 L1072.80,427.50 L1072.50,426.75 L1072.20,426.00 L1071.90,425.25 L1071.60,424.50 L1071.30,423.75 L1071.00,423.00 L1070.70,422.25 L1070.39,421.50 L1070.07,420.75 L1069.75,420.00 L1069.43,419.25 L1069.11,418.50 L1068.80,417.75 L1068.48,417.00 L1068.18,416.25 L1067.88,415.50 L1067.59,414.75 L1067.31,414.00 L1067.05,413.25 L1066.80,412.50 L1066.56,411.75 L1066.32,411.00 L1066.08,410.25 L1065.84,409.50 L1065.61,408.75 L1065.38,408.00 L1065.17,407.25 L1064.96,406.50 L1064.77,405.75 L1064.60,405.00 L1064.44,404.25 L1064.30,403.50 L1064.18,402.75 L1064.09,402.00 L1063.99,401.25 L1063.90,400.50 L1063.81,399.75 L1063.72,399.00 L1063.64,398.25 L1063.56,397.50 L1063.50,396.75 L1063.44,396.00 L1063.39,395.25 L1063.35,394.50 L1063.32,393.75 L1063.30,393.00 L1063.30,392.25 L1063.32,391.50 L1063.35,390.75 L1063.39,390.00 L1063.45,389.25 L1063.52,388.50 L1063.60,387.75 L1063.69,387.00 L1063.78,386.25 L1063.88,385.50 L1063.98,384.75 L1064.09,384.00 L1064.19,383.25 L1064.30,382.50 L1064.41,381.75 L1064.54,381.00 L1064.68,380.25 L1064.84,379.50 L1065.01,378.75 L1065.19,378.00 L1065.37,377.25 L1065.56,376.50 L1065.76,375.75 L1065.96,375.00 L1066.17,374.25 L1066.37,373.50 L1066.58,372.75 L1066.78,372.00 L1066.98,371.25 L1067.17,370.50 L1067.36,369.75 L1067.55,369.00 L1067.75,368.25 L1067.95,367.50 L1068.15,366.75 L1068.35,366.00 L1068.56,365.25 L1068.76,364.50 L1068.97,363.75 L1069.17,363.00 L1069.37,362.25 L1069.56,361.50 L1069.75,360.75 L1069.94,360.00 L1070.12,359.25 L1070.29,358.50 L1070.45,357.75 L1070.60,357.00 L1070.76,356.25 L1070.92,355.50 L1071.07,354.75 L1071.23,354.00 L1071.38,353.25 L1071.53,352.50 L1071.68,351.75 L1071.82,351.00 L1071.95,350.25 L1072.08,349.50 L1072.20,348.75 L1072.31,348.00 L1072.41,347.25 L1072.50,346.50 L1072.58,345.75 L1072.65,345.00 L1072.71,344.25 L1072.77,343.50 L1072.83,342.75 L1072.88,342.00 L1072.94,341.25 L1072.99,340.50 L1073.04,339.75 L1073.09,339.00 L1073.13,338.25 L1073.17,337.50 L1073.20,336.75 L1073.23,336.00 L1073.26,335.25 L1073.28,334.50 L1073.29,333.75 L1073.30,333.00 L1073.30,332.25 L1073.29,331.50 L1073.28,330.75 L1073.26,330.00 L1073.23,329.25 L1073.20,328.50 L1073.17,327.75 L1073.14,327.00 L1073.10,326.25 L1073.06,325.50 L1073.03,324.75 L1073.00,324.00 L1072.97,323.25 L1072.94,322.50 L1072.92,321.75 L1072.91,321.00 L1072.90,320.25 L1072.90,319.50 L1072.91,318.75 L1072.92,318.00 L1072.93,317.25 L1072.95,316.50 L1072.97,315.75 L1072.99,315.00 L1073.02,314.25 L1073.05,313.50 L1073.08,312.75 L1073.11,312.00 L1073.14,311.25 L1073.17,310.50 L1073.22,309.75 L1073.27,309.00 L1073.32,308.25 L1073.39,307.50 L1073.46,306.75 L1073.53,306.00 L1073.61,305.25 L1073.69,304.50 L1073.78,303.75 L1073.87,303.00 L1073.96,302.25 L1074.05,301.50 L1074.14,300.75 L1074.23,300.00 L1074.31,299.25 L1074.40,298.50 L1074.49,297.75 L1074.57,297.00 L1074.66,296.25 L1074.75,295.50 L1074.85,294.75 L1074.94,294.00 L1075.03,293.25 L1075.13,292.50 L1075.23,291.75 L1075.33,291.00 L1075.43,290.25 L1075.53,289.50 L1075.63,288.75 L1075.73,288.00 L1075.83,287.25 L1075.93,286.50 L1076.03,285.75 L1076.14,285.00 L1076.24,284.25 L1076.35,283.50 L1076.46,282.75 L1076.56,282.00 L1076.67,281.25 L1076.78,280.50 L1076.89,279.75 L1077.00,279.00 L1077.11,278.25 L1077.22,277.50 L1077.33,276.75 L1077.44,276.00 L1077.55,275.25 L1077.66,274.50 L1077.76,273.75 L1077.87,273.00 L1077.97,272.25 L1078.08,271.50 L1078.18,270.75 L1078.28,270.00 L1078.38,269.25 L1078.48,268.50 L1078.58,267.75 L1078.68,267.00 L1078.78,266.25 L1078.88,265.50 L1078.98,264.75 L1079.08,264.00 L1079.18,263.25 L1079.29,262.50 L1079.39,261.75 L1079.50,261.00 L1079.61,260.25 L1079.72,259.50 L1079.83,258.75 L1079.94,258.00 L1080.05,257.25 L1080.16,256.50 L1080.28,255.75 L1080.39,255.00 L1080.51,254.25 L1080.62,253.50 L1080.74,252.75 L1080.85,252.00 L1080.97,251.25 L1081.09,250.50 L1081.21,249.75 L1081.32,249.00 L1081.44,248.25 L1081.56,247.50 L1081.68,246.75 L1081.80,246.00 L1081.92,245.25 L1082.04,244.50 L1082.16,243.75 L1082.28,243.00 L1082.40,242.25 L1082.52,241.50 L1082.64,240.75 L1082.76,240.00 L1082.88,239.25 L1083.00,238.50 L1083.12,237.75 L1083.24,237.00 L1083.36,236.25 L1083.48,235.50 L1083.59,234.75 L1083.71,234.00 L1083.83,233.25 L1083.94,232.50 L1084.06,231.75 L1084.17,231.00 L1084.28,230.25 L1084.40,229.50 L1084.51,228.75 L1084.62,228.00 L1084.74,227.25 L1084.85,226.50 L1084.96,225.75 L1085.07,225.00 L1085.19,224.25 L1085.30,223.50 L1085.41,222.75 L1085.53,222.00 L1085.64,221.25 L1085.75,220.50 L1085.86,219.75 L1085.98,219.00 L1086.09,218.25 L1086.20,217.50 L1086.31,216.75 L1086.42,216.00 L1086.54,215.25 L1086.65,214.50 L1086.76,213.75 L1086.86,213.00 L1086.97,212.25 L1087.08,211.50 L1087.19,210.75 L1087.29,210.00 L1087.40,209.25 L1087.50,208.50 L1087.60,207.75 L1087.71,207.00 L1087.81,206.25 L1087.92,205.50 L1088.02,204.75 L1088.12,204.00 L1088.22,203.25 L1088.32,202.50 L1088.42,201.75 L1088.52,201.00 L1088.62,200.25 L1088.72,199.50 L1088.82,198.75 L1088.92,198.00 L1089.02,197.25 L1089.11,196.50 L1089.21,195.75 L1089.30,195.00 L1089.40,194.25Z" fill="#eaf2f8" stroke="#333333" stroke-width="1.2" stroke-linejoin="miter"/>
<path d="M1094.40,194.25V299.25M1094.40,402.50V456.25" stroke="#333333" stroke-width="1.6" fill="none"/>
<rect x="1091.80" y="299.25" width="5.20" height="103.25" fill="#d4e5f1" stroke="#333333" stroke-width="1.6"/>
<path d="M1091.80,370.00H1097.00" stroke="#333333" stroke-width="3.20" fill="none"/>
<circle cx="1094.40" cy="369.50" r="4.3" fill="#3182bd" stroke="#bdbdbd" stroke-width="1.75"/>
<path d="M1200.50,227.25 L1200.65,228.00 L1200.80,228.75 L1200.95,229.50 L1201.10,230.25 L1201.24,231.00 L1201.37,231.75 L1201.51,232.50 L1201.64,233.25 L1201.76,234.00 L1201.88,234.75 L1202.00,235.50 L1202.11,236.25 L1202.22,237.00 L1202.32,237.75 L1202.41,238.50 L1202.51,239.25 L1202.61,240.00 L1202.70,240.75 L1202.80,241.50 L1202.89,242.25 L1202.98,243.00 L1203.07,243.75 L1203.15,244.50 L1203.23,245.25 L1203.30,246.00 L1203.37,246.75 L1203.43,247.50 L1203.48,248.25 L1203.53,249.00 L1203.57,249.75 L1203.60,250.50 L1203.62,251.25 L1203.65,252.00 L1203.67,252.75 L1203.69,253.50 L1203.72,254.25 L1203.74,255.00 L1203.75,255.75 L1203.77,256.50 L1203.79,257.25 L1203.80,258.00 L1203.81,258.75 L1203.83,259.50 L1203.83,260.25 L1203.84,261.00 L1203.85,261.75 L1203.85,262.50 L1203.85,263.25 L1203.85,264.00 L1203.84,264.75 L1203.82,265.50 L1203.80,266.25 L1203.78,267.00 L1203.75,267.75 L1203.72,268.50 L1203.69,269.25 L1203.65,270.00 L1203.62,270.75 L1203.58,271.50 L1203.54,272.25 L1203.49,273.00 L1203.45,273.75 L1203.41,274.50 L1203.36,275.25 L1203.32,276.00 L1203.27,276.75 L1203.21,277.50 L1203.15,278.25 L1203.08,279.00 L1203.00,279.75 L1202.93,280.50 L1202.85,281.25 L1202.76,282.00 L1202.68,282.75 L1202.59,283.50 L1202.51,284.25 L1202.42,285.00 L1202.34,285.75 L1202.26,286.50 L1202.18,287.25 L1202.10,288.00 L1202.02,288.75 L1201.94,289.50 L1201.86,290.25 L1201.78,291.00 L1201.69,291.75 L1201.61,292.50 L1201.52,293.25 L1201.44,294.00 L1201.35,294.75 L1201.27,295.50 L1201.20,296.25 L1201.12,297.00 L1201.05,297.75 L1200.99,298.50 L1200.93,299.25 L1200.88,300.00 L1200.84,300.75 L1200.79,301.50 L1200.75,302.25 L1200.71,303.00 L1200.66,303.75 L1200.62,304.50 L1200.58,305.25 L1200.55,306.00 L1200.51,306.75 L1200.48,307.50 L1200.45,308.25 L1200.42,309.00 L1200.40,309.75 L1200.38,310.50 L1200.36,311.25 L1200.35,312.00 L1200.35,312.75 L1200.35,313.50 L1200.36,314.25 L1200.38,315.00 L1200.41,315.75 L1200.44,316.50 L1200.47,317.25 L1200.52,318.00 L1200.57,318.75 L1200.62,319.50 L1200.67,320.25 L1200.73,321.00 L1200.79,321.75 L1200.85,322.50 L1200.91,323.25 L1200.98,324.00 L1201.04,324.75 L1201.10,325.50 L1201.16,326.25 L1201.23,327.00 L1201.31,327.75 L1201.39,328.50 L1201.47,329.25 L1201.56,330.00 L1201.65,330.75 L1201.74,331.50 L1201.84,332.25 L1201.94,333.00 L1202.04,333.75 L1202.14,334.50 L1202.24,335.25 L1202.34,336.00 L1202.44,336.75 L1202.54,337.50 L1202.63,338.25 L1202.73,339.00 L1202.83,339.75 L1202.93,340.50 L1203.03,341.25 L1203.13,342.00 L1203.24,342.75 L1203.34,343.50 L1203.45,344.25 L1203.55,345.00 L1203.66,345.75 L1203.76,346.50 L1203.87,347.25 L1203.97,348.00 L1204.07,348.75 L1204.17,349.50 L1204.27,350.25 L1204.36,351.00 L1204.46,351.75 L1204.54,352.50 L1204.63,353.25 L1204.71,354.00 L1204.80,354.75 L1204.88,355.50 L1204.96,356.25 L1205.04,357.00 L1205.12,357.75 L1205.21,358.50 L1205.29,359.25 L1205.38,360.00 L1205.47,360.75 L1205.57,361.50 L1205.67,362.25 L1205.77,363.00 L1205.88,363.75 L1206.00,364.50 L1206.12,365.25 L1206.25,366.00 L1206.39,366.75 L1206.53,367.50 L1206.68,368.25 L1206.84,369.00 L1207.00,369.75 L1207.17,370.50 L1207.35,371.25 L1207.53,372.00 L1207.71,372.75 L1207.90,373.50 L1208.10,374.25 L1208.30,375.00 L1208.50,375.75 L1208.71,376.50 L1208.92,377.25 L1209.15,378.00 L1209.38,378.75 L1209.62,379.50 L1209.88,380.25 L1210.14,381.00 L1210.42,381.75 L1210.70,382.50 L1210.98,383.25 L1211.28,384.00 L1211.58,384.75 L1211.89,385.50 L1212.20,386.25 L1212.52,387.00 L1212.84,387.75 L1213.16,388.50 L1213.49,389.25 L1213.82,390.00 L1214.17,390.75 L1214.52,391.50 L1214.89,392.25 L1215.27,393.00 L1215.65,393.75 L1216.04,394.50 L1216.44,395.25 L1216.84,396.00 L1217.25,396.75 L1217.66,397.50 L1218.07,398.25 L1218.48,399.00 L1218.89,399.75 L1219.30,400.50 L1219.70,401.25 L1220.10,402.00 L1220.50,402.75 L1220.90,403.50 L1221.30,404.25 L1221.70,405.00 L1222.10,405.75 L1222.51,406.50 L1222.91,407.25 L1223.32,408.00 L1223.72,408.75 L1224.13,409.50 L1224.54,410.25 L1224.95,411.00 L1225.35,411.75 L1225.76,412.50 L1226.17,413.25 L1226.58,414.00 L1226.99,414.75 L1227.40,415.50 L1227.82,416.25 L1228.24,417.00 L1228.66,417.75 L1229.09,418.50 L1229.51,419.25 L1229.94,420.00 L1230.36,420.75 L1230.78,421.50 L1231.20,422.25 L1231.62,423.00 L1232.02,423.75 L1232.42,424.50 L1232.82,425.25 L1233.20,426.00 L1233.58,426.75 L1233.94,427.50 L1234.31,428.25 L1234.69,429.00 L1235.06,429.75 L1235.43,430.50 L1235.79,431.25 L1236.16,432.00 L1236.51,432.75 L1236.86,433.50 L1237.20,434.25 L1237.53,435.00 L1237.85,435.75 L1238.15,436.50 L1238.44,437.25 L1238.71,438.00 L1238.97,438.75 L1239.20,439.50 L1239.43,440.25 L1239.65,441.00 L1239.88,441.75 L1240.10,442.50 L1240.32,443.25 L1240.53,444.00 L1240.72,444.75 L1240.90,445.50 L1241.06,446.25 L1241.21,447.00 L1241.33,447.75 L1241.42,448.50 L1241.48,449.25 L1241.53,450.00 L1241.56,450.75 L1241.60,451.50 L1241.63,452.25 L1241.65,453.00 L1241.67,453.75 L1241.69,454.50 L1241.70,455.25 L1241.70,456.00 L1241.67,456.75 L1241.60,457.50 L1241.51,458.25 L1241.39,459.00 L1241.24,459.75 L1241.08,460.50 L1240.89,461.25 L1240.70,462.00 L1240.50,462.75 L1240.28,463.50 L1240.07,464.25 L1239.85,465.00 L1239.59,465.75 L1239.29,466.50 L1238.95,467.25 L1238.59,468.00 L1238.19,468.75 L1237.77,469.50 L1237.32,470.25 L1236.85,471.00 L1236.37,471.75 L1235.87,472.50 L1235.36,473.25 L1234.85,474.00 L1234.32,474.75 L1233.76,475.50 L1233.15,476.25 L1232.50,477.00 L1231.82,477.75 L1231.11,478.50 L1230.38,479.25 L1229.63,480.00 L1228.87,480.75 L1228.11,481.50 L1227.35,482.25 L1226.57,483.00 L1225.77,483.75 L1224.95,484.50 L1224.12,485.25 L1223.27,486.00 L1222.40,486.75 L1221.51,487.50 L1220.61,488.25 L1219.70,489.00 L1171.50,489.00 L1170.59,488.25 L1169.69,487.50 L1168.80,486.75 L1167.93,486.00 L1167.08,485.25 L1166.25,484.50 L1165.43,483.75 L1164.63,483.00 L1163.85,482.25 L1163.09,481.50 L1162.33,480.75 L1161.57,480.00 L1160.82,479.25 L1160.09,478.50 L1159.38,477.75 L1158.70,477.00 L1158.05,476.25 L1157.44,475.50 L1156.88,474.75 L1156.35,474.00 L1155.84,473.25 L1155.33,472.50 L1154.83,471.75 L1154.35,471.00 L1153.88,470.25 L1153.43,469.50 L1153.01,468.75 L1152.61,468.00 L1152.25,467.25 L1151.91,466.50 L1151.61,465.75 L1151.35,465.00 L1151.13,464.25 L1150.92,463.50 L1150.70,462.75 L1150.50,462.00 L1150.31,461.25 L1150.12,460.50 L1149.96,459.75 L1149.81,459.00 L1149.69,458.25 L1149.60,457.50 L1149.53,456.75 L1149.50,456.00 L1149.50,455.25 L1149.51,454.50 L1149.53,453.75 L1149.55,453.00 L1149.57,452.25 L1149.60,451.50 L1149.64,450.75 L1149.67,450.00 L1149.72,449.25 L1149.78,448.50 L1149.87,447.75 L1149.99,447.00 L1150.14,446.25 L1150.30,445.50 L1150.48,444.75 L1150.67,444.00 L1150.88,443.25 L1151.10,442.50 L1151.32,441.75 L1151.55,441.00 L1151.77,440.25 L1152.00,439.50 L1152.23,438.75 L1152.49,438.00 L1152.76,437.25 L1153.05,436.50 L1153.35,435.75 L1153.67,435.00 L1154.00,434.25 L1154.34,433.50 L1154.69,432.75 L1155.04,432.00 L1155.41,431.25 L1155.77,430.50 L1156.14,429.75 L1156.51,429.00 L1156.89,428.25 L1157.26,427.50 L1157.62,426.75 L1158.00,426.00 L1158.38,425.25 L1158.78,424.50 L1159.18,423.75 L1159.58,423.00 L1160.00,422.25 L1160.42,421.50 L1160.84,420.75 L1161.26,420.00 L1161.69,419.25 L1162.11,418.50 L1162.54,417.75 L1162.96,417.00 L1163.38,416.25 L1163.80,415.50 L1164.21,414.75 L1164.62,414.00 L1165.03,413.25 L1165.44,412.50 L1165.85,411.75 L1166.25,411.00 L1166.66,410.25 L1167.07,409.50 L1167.48,408.75 L1167.88,408.00 L1168.29,407.25 L1168.69,406.50 L1169.10,405.75 L1169.50,405.00 L1169.90,404.25 L1170.30,403.50 L1170.70,402.75 L1171.10,402.00 L1171.50,401.25 L1171.90,400.50 L1172.31,399.75 L1172.72,399.00 L1173.13,398.25 L1173.54,397.50 L1173.95,396.75 L1174.36,396.00 L1174.76,395.25 L1175.16,394.50 L1175.55,393.75 L1175.93,393.00 L1176.31,392.25 L1176.68,391.50 L1177.03,390.75 L1177.38,390.00 L1177.71,389.25 L1178.04,388.50 L1178.36,387.75 L1178.68,387.00 L1179.00,386.25 L1179.31,385.50 L1179.62,384.75 L1179.92,384.00 L1180.22,383.25 L1180.50,382.50 L1180.78,381.75 L1181.06,381.00 L1181.32,380.25 L1181.58,379.50 L1181.82,378.75 L1182.05,378.00 L1182.28,377.25 L1182.49,376.50 L1182.70,375.75 L1182.90,375.00 L1183.10,374.25 L1183.30,373.50 L1183.49,372.75 L1183.67,372.00 L1183.85,371.25 L1184.03,370.50 L1184.20,369.75 L1184.36,369.00 L1184.52,368.25 L1184.67,367.50 L1184.81,366.75 L1184.95,366.00 L1185.08,365.25 L1185.20,364.50 L1185.32,363.75 L1185.43,363.00 L1185.53,362.25 L1185.63,361.50 L1185.73,360.75 L1185.82,360.00 L1185.91,359.25 L1185.99,358.50 L1186.08,357.75 L1186.16,357.00 L1186.24,356.25 L1186.32,355.50 L1186.40,354.75 L1186.49,354.00 L1186.57,353.25 L1186.66,352.50 L1186.74,351.75 L1186.84,351.00 L1186.93,350.25 L1187.03,349.50 L1187.13,348.75 L1187.23,348.00 L1187.33,347.25 L1187.44,346.50 L1187.54,345.75 L1187.65,345.00 L1187.75,344.25 L1187.86,343.50 L1187.96,342.75 L1188.07,342.00 L1188.17,341.25 L1188.27,340.50 L1188.37,339.75 L1188.47,339.00 L1188.57,338.25 L1188.66,337.50 L1188.76,336.75 L1188.86,336.00 L1188.96,335.25 L1189.06,334.50 L1189.16,333.75 L1189.26,333.00 L1189.36,332.25 L1189.46,331.50 L1189.55,330.75 L1189.64,330.00 L1189.73,329.25 L1189.81,328.50 L1189.89,327.75 L1189.97,327.00 L1190.04,326.25 L1190.10,325.50 L1190.16,324.75 L1190.22,324.00 L1190.29,323.25 L1190.35,322.50 L1190.41,321.75 L1190.47,321.00 L1190.53,320.25 L1190.58,319.50 L1190.63,318.75 L1190.68,318.00 L1190.73,317.25 L1190.76,316.50 L1190.79,315.75 L1190.82,315.00 L1190.84,314.25 L1190.85,313.50 L1190.85,312.75 L1190.85,312.00 L1190.84,311.25 L1190.82,310.50 L1190.80,309.75 L1190.78,309.00 L1190.75,308.25 L1190.72,307.50 L1190.69,306.75 L1190.65,306.00 L1190.62,305.25 L1190.58,304.50 L1190.54,303.75 L1190.49,303.00 L1190.45,302.25 L1190.41,301.50 L1190.36,300.75 L1190.32,300.00 L1190.27,299.25 L1190.21,298.50 L1190.15,297.75 L1190.08,297.00 L1190.00,296.25 L1189.93,295.50 L1189.85,294.75 L1189.76,294.00 L1189.68,293.25 L1189.59,292.50 L1189.51,291.75 L1189.42,291.00 L1189.34,290.25 L1189.26,289.50 L1189.18,288.75 L1189.10,288.00 L1189.02,287.25 L1188.94,286.50 L1188.86,285.75 L1188.78,285.00 L1188.69,284.25 L1188.61,283.50 L1188.52,282.75 L1188.44,282.00 L1188.35,281.25 L1188.27,280.50 L1188.20,279.75 L1188.12,279.00 L1188.05,278.25 L1187.99,277.50 L1187.93,276.75 L1187.88,276.00 L1187.84,275.25 L1187.79,274.50 L1187.75,273.75 L1187.71,273.00 L1187.66,272.25 L1187.62,271.50 L1187.58,270.75 L1187.55,270.00 L1187.51,269.25 L1187.48,268.50 L1187.45,267.75 L1187.42,267.00 L1187.40,266.25 L1187.38,265.50 L1187.36,264.75 L1187.35,264.00 L1187.35,263.25 L1187.35,262.50 L1187.35,261.75 L1187.36,261.00 L1187.37,260.25 L1187.37,259.50 L1187.39,258.75 L1187.40,258.00 L1187.41,257.25 L1187.43,256.50 L1187.45,255.75 L1187.46,255.00 L1187.48,254.25 L1187.51,253.50 L1187.53,252.75 L1187.55,252.00 L1187.58,251.25 L1187.60,250.50 L1187.63,249.75 L1187.67,249.00 L1187.72,248.25 L1187.77,247.50 L1187.83,246.75 L1187.90,246.00 L1187.97,245.25 L1188.05,244.50 L1188.13,243.75 L1188.22,243.00 L1188.31,242.25 L1188.40,241.50 L1188.50,240.75 L1188.59,240.00 L1188.69,239.25 L1188.79,238.50 L1188.88,237.75 L1188.98,237.00 L1189.09,236.25 L1189.20,235.50 L1189.32,234.75 L1189.44,234.00 L1189.56,233.25 L1189.69,232.50 L1189.83,231.75 L1189.96,231.00 L1190.10,230.25 L1190.25,229.50 L1190.40,228.75 L1190.55,228.00 L1190.70,227.25Z" fill="#e6eef5" stroke="#333333" stroke-width="1.2" stroke-linejoin="miter"/>
<path d="M1195.60,292.50V393.25M1195.60,465.25V489.00" stroke="#333333" stroke-width="1.6" fill="none"/>
<rect x="1193.00" y="393.25" width="5.20" height="72.00" fill="#ccdbea" stroke="#333333" stroke-width="1.6"/>
<path d="M1193.00,439.00H1198.20" stroke="#333333" stroke-width="3.20" fill="none"/>
<circle cx="1195.60" cy="428.25" r="4.3" fill="#08519c" stroke="#bdbdbd" stroke-width="1.75"/>
<path d="M1300.50,68.00 L1300.62,68.75 L1300.74,69.50 L1300.87,70.25 L1301.00,71.00 L1301.14,71.75 L1301.28,72.50 L1301.43,73.25 L1301.59,74.00 L1301.75,74.75 L1301.91,75.50 L1302.08,76.25 L1302.26,77.00 L1302.44,77.75 L1302.63,78.50 L1302.82,79.25 L1303.02,80.00 L1303.23,80.75 L1303.44,81.50 L1303.66,82.25 L1303.88,83.00 L1304.11,83.75 L1304.34,84.50 L1304.58,85.25 L1304.83,86.00 L1305.08,86.75 L1305.34,87.50 L1305.62,88.25 L1305.89,89.00 L1306.18,89.75 L1306.48,90.50 L1306.78,91.25 L1307.09,92.00 L1307.40,92.75 L1307.73,93.50 L1308.06,94.25 L1308.40,95.00 L1308.75,95.75 L1309.12,96.50 L1309.51,97.25 L1309.91,98.00 L1310.32,98.75 L1310.74,99.50 L1311.17,100.25 L1311.60,101.00 L1312.04,101.75 L1312.47,102.50 L1312.91,103.25 L1313.34,104.00 L1313.76,104.75 L1314.18,105.50 L1314.60,106.25 L1315.03,107.00 L1315.46,107.75 L1315.89,108.50 L1316.33,109.25 L1316.76,110.00 L1317.19,110.75 L1317.61,111.50 L1318.03,112.25 L1318.44,113.00 L1318.85,113.75 L1319.24,114.50 L1319.63,115.25 L1320.01,116.00 L1320.39,116.75 L1320.77,117.50 L1321.15,118.25 L1321.52,119.00 L1321.88,119.75 L1322.24,120.50 L1322.59,121.25 L1322.93,122.00 L1323.26,122.75 L1323.57,123.50 L1323.87,124.25 L1324.15,125.00 L1324.42,125.75 L1324.69,126.50 L1324.95,127.25 L1325.21,128.00 L1325.46,128.75 L1325.70,129.50 L1325.93,130.25 L1326.16,131.00 L1326.37,131.75 L1326.57,132.50 L1326.76,133.25 L1326.94,134.00 L1327.10,134.75 L1327.25,135.50 L1327.40,136.25 L1327.54,137.00 L1327.68,137.75 L1327.81,138.50 L1327.94,139.25 L1328.06,140.00 L1328.17,140.75 L1328.28,141.50 L1328.37,142.25 L1328.46,143.00 L1328.54,143.75 L1328.61,144.50 L1328.67,145.25 L1328.72,146.00 L1328.78,146.75 L1328.83,147.50 L1328.89,148.25 L1328.93,149.00 L1328.98,149.75 L1329.02,150.50 L1329.06,151.25 L1329.09,152.00 L1329.11,152.75 L1329.13,153.50 L1329.15,154.25 L1329.15,155.00 L1329.15,155.75 L1329.14,156.50 L1329.13,157.25 L1329.12,158.00 L1329.11,158.75 L1329.09,159.50 L1329.07,160.25 L1329.05,161.00 L1329.02,161.75 L1329.00,162.50 L1328.97,163.25 L1328.94,164.00 L1328.91,164.75 L1328.88,165.50 L1328.84,166.25 L1328.78,167.00 L1328.72,167.75 L1328.65,168.50 L1328.58,169.25 L1328.50,170.00 L1328.42,170.75 L1328.33,171.50 L1328.24,172.25 L1328.14,173.00 L1328.05,173.75 L1327.96,174.50 L1327.87,175.25 L1327.78,176.00 L1327.68,176.75 L1327.57,177.50 L1327.47,178.25 L1327.35,179.00 L1327.24,179.75 L1327.12,180.50 L1327.01,181.25 L1326.89,182.00 L1326.76,182.75 L1326.64,183.50 L1326.52,184.25 L1326.40,185.00 L1326.28,185.75 L1326.14,186.50 L1326.01,187.25 L1325.87,188.00 L1325.73,188.75 L1325.59,189.50 L1325.44,190.25 L1325.31,191.00 L1325.17,191.75 L1325.04,192.50 L1324.91,193.25 L1324.79,194.00 L1324.68,194.75 L1324.58,195.50 L1324.48,196.25 L1324.39,197.00 L1324.29,197.75 L1324.20,198.50 L1324.11,199.25 L1324.03,200.00 L1323.94,200.75 L1323.86,201.50 L1323.78,202.25 L1323.71,203.00 L1323.64,203.75 L1323.57,204.50 L1323.50,205.25 L1323.44,206.00 L1323.38,206.75 L1323.33,207.50 L1323.27,208.25 L1323.23,209.00 L1323.18,209.75 L1323.13,210.50 L1323.09,211.25 L1323.05,212.00 L1323.01,212.75 L1322.97,213.50 L1322.93,214.25 L1322.89,215.00 L1322.85,215.75 L1322.81,216.50 L1322.76,217.25 L1322.72,218.00 L1322.67,218.75 L1322.62,219.50 L1322.57,220.25 L1322.51,221.00 L1322.46,221.75 L1322.41,222.50 L1322.36,223.25 L1322.31,224.00 L1322.26,224.75 L1322.20,225.50 L1322.14,226.25 L1322.08,227.00 L1322.02,227.75 L1321.95,228.50 L1321.88,229.25 L1321.81,230.00 L1321.73,230.75 L1321.65,231.50 L1321.56,232.25 L1321.46,233.00 L1321.35,233.75 L1321.24,234.50 L1321.11,235.25 L1320.98,236.00 L1320.84,236.75 L1320.70,237.50 L1320.55,238.25 L1320.40,239.00 L1320.24,239.75 L1320.08,240.50 L1319.91,241.25 L1319.75,242.00 L1319.58,242.75 L1319.41,243.50 L1319.24,244.25 L1319.07,245.00 L1318.88,245.75 L1318.69,246.50 L1318.49,247.25 L1318.28,248.00 L1318.07,248.75 L1317.85,249.50 L1317.64,250.25 L1317.41,251.00 L1317.19,251.75 L1316.97,252.50 L1316.74,253.25 L1316.52,254.00 L1316.30,254.75 L1316.08,255.50 L1315.87,256.25 L1315.66,257.00 L1315.45,257.75 L1315.24,258.50 L1315.02,259.25 L1314.81,260.00 L1314.60,260.75 L1314.38,261.50 L1314.17,262.25 L1313.96,263.00 L1313.74,263.75 L1313.53,264.50 L1313.32,265.25 L1313.11,266.00 L1312.91,266.75 L1312.70,267.50 L1312.50,268.25 L1312.30,269.00 L1312.10,269.75 L1311.90,270.50 L1311.71,271.25 L1311.51,272.00 L1311.32,272.75 L1311.12,273.50 L1310.93,274.25 L1310.74,275.00 L1310.55,275.75 L1310.36,276.50 L1310.18,277.25 L1309.99,278.00 L1309.81,278.75 L1309.63,279.50 L1309.45,280.25 L1309.27,281.00 L1309.09,281.75 L1308.92,282.50 L1308.74,283.25 L1308.57,284.00 L1308.40,284.75 L1308.23,285.50 L1308.07,286.25 L1307.90,287.00 L1307.74,287.75 L1307.57,288.50 L1307.41,289.25 L1307.25,290.00 L1307.09,290.75 L1306.93,291.50 L1306.77,292.25 L1306.61,293.00 L1306.45,293.75 L1306.30,294.50 L1306.14,295.25 L1305.98,296.00 L1305.82,296.75 L1305.67,297.50 L1305.51,298.25 L1305.36,299.00 L1305.20,299.75 L1305.05,300.50 L1304.90,301.25 L1304.75,302.00 L1304.60,302.75 L1304.46,303.50 L1304.31,304.25 L1304.17,305.00 L1304.03,305.75 L1303.90,306.50 L1303.77,307.25 L1303.64,308.00 L1303.52,308.75 L1303.39,309.50 L1303.27,310.25 L1303.16,311.00 L1303.04,311.75 L1302.92,312.50 L1302.81,313.25 L1302.69,314.00 L1302.58,314.75 L1302.46,315.50 L1302.35,316.25 L1302.23,317.00 L1302.11,317.75 L1301.98,318.50 L1301.86,319.25 L1301.73,320.00 L1301.60,320.75 L1301.47,321.50 L1301.34,322.25 L1301.21,323.00 L1301.08,323.75 L1300.95,324.50 L1300.81,325.25 L1300.68,326.00 L1300.54,326.75 L1300.41,327.50 L1300.27,328.25 L1300.13,329.00 L1299.99,329.75 L1299.90,330.25 L1294.90,330.25 L1294.81,329.75 L1294.67,329.00 L1294.53,328.25 L1294.39,327.50 L1294.26,326.75 L1294.12,326.00 L1293.99,325.25 L1293.85,324.50 L1293.72,323.75 L1293.59,323.00 L1293.46,322.25 L1293.33,321.50 L1293.20,320.75 L1293.07,320.00 L1292.94,319.25 L1292.82,318.50 L1292.69,317.75 L1292.57,317.00 L1292.45,316.25 L1292.34,315.50 L1292.22,314.75 L1292.11,314.00 L1291.99,313.25 L1291.88,312.50 L1291.76,311.75 L1291.64,311.00 L1291.53,310.25 L1291.41,309.50 L1291.28,308.75 L1291.16,308.00 L1291.03,307.25 L1290.90,306.50 L1290.77,305.75 L1290.63,305.00 L1290.49,304.25 L1290.34,303.50 L1290.20,302.75 L1290.05,302.00 L1289.90,301.25 L1289.75,300.50 L1289.60,299.75 L1289.44,299.00 L1289.29,298.25 L1289.13,297.50 L1288.98,296.75 L1288.82,296.00 L1288.66,295.25 L1288.50,294.50 L1288.35,293.75 L1288.19,293.00 L1288.03,292.25 L1287.87,291.50 L1287.71,290.75 L1287.55,290.00 L1287.39,289.25 L1287.23,288.50 L1287.06,287.75 L1286.90,287.00 L1286.73,286.25 L1286.57,285.50 L1286.40,284.75 L1286.23,284.00 L1286.06,283.25 L1285.88,282.50 L1285.71,281.75 L1285.53,281.00 L1285.35,280.25 L1285.17,279.50 L1284.99,278.75 L1284.81,278.00 L1284.62,277.25 L1284.44,276.50 L1284.25,275.75 L1284.06,275.00 L1283.87,274.25 L1283.68,273.50 L1283.48,272.75 L1283.29,272.00 L1283.09,271.25 L1282.90,270.50 L1282.70,269.75 L1282.50,269.00 L1282.30,268.25 L1282.10,267.50 L1281.89,266.75 L1281.69,266.00 L1281.48,265.25 L1281.27,264.50 L1281.06,263.75 L1280.84,263.00 L1280.63,262.25 L1280.42,261.50 L1280.20,260.75 L1279.99,260.00 L1279.78,259.25 L1279.56,258.50 L1279.35,257.75 L1279.14,257.00 L1278.93,256.25 L1278.72,255.50 L1278.50,254.75 L1278.28,254.00 L1278.06,253.25 L1277.83,252.50 L1277.61,251.75 L1277.39,251.00 L1277.16,250.25 L1276.95,249.50 L1276.73,248.75 L1276.52,248.00 L1276.31,247.25 L1276.11,246.50 L1275.92,245.75 L1275.73,245.00 L1275.56,244.25 L1275.39,243.50 L1275.22,242.75 L1275.05,242.00 L1274.89,241.25 L1274.72,240.50 L1274.56,239.75 L1274.40,239.00 L1274.25,238.25 L1274.10,237.50 L1273.96,236.75 L1273.82,236.00 L1273.69,235.25 L1273.56,234.50 L1273.45,233.75 L1273.34,233.00 L1273.24,232.25 L1273.15,231.50 L1273.07,230.75 L1272.99,230.00 L1272.92,229.25 L1272.85,228.50 L1272.78,227.75 L1272.72,227.00 L1272.66,226.25 L1272.60,225.50 L1272.54,224.75 L1272.49,224.00 L1272.44,223.25 L1272.39,222.50 L1272.34,221.75 L1272.29,221.00 L1272.23,220.25 L1272.18,219.50 L1272.13,218.75 L1272.08,218.00 L1272.04,217.25 L1271.99,216.50 L1271.95,215.75 L1271.91,215.00 L1271.87,214.25 L1271.83,213.50 L1271.79,212.75 L1271.75,212.00 L1271.71,211.25 L1271.67,210.50 L1271.62,209.75 L1271.57,209.00 L1271.53,208.25 L1271.47,207.50 L1271.42,206.75 L1271.36,206.00 L1271.30,205.25 L1271.23,204.50 L1271.16,203.75 L1271.09,203.00 L1271.02,202.25 L1270.94,201.50 L1270.86,200.75 L1270.77,200.00 L1270.69,199.25 L1270.60,198.50 L1270.51,197.75 L1270.41,197.00 L1270.32,196.25 L1270.22,195.50 L1270.12,194.75 L1270.01,194.00 L1269.89,193.25 L1269.76,192.50 L1269.63,191.75 L1269.49,191.00 L1269.36,190.25 L1269.21,189.50 L1269.07,188.75 L1268.93,188.00 L1268.79,187.25 L1268.66,186.50 L1268.52,185.75 L1268.40,185.00 L1268.28,184.25 L1268.16,183.50 L1268.04,182.75 L1267.91,182.00 L1267.79,181.25 L1267.68,180.50 L1267.56,179.75 L1267.45,179.00 L1267.33,178.25 L1267.23,177.50 L1267.12,176.75 L1267.02,176.00 L1266.93,175.25 L1266.84,174.50 L1266.75,173.75 L1266.66,173.00 L1266.56,172.25 L1266.47,171.50 L1266.38,170.75 L1266.30,170.00 L1266.22,169.25 L1266.15,168.50 L1266.08,167.75 L1266.02,167.00 L1265.96,166.25 L1265.92,165.50 L1265.89,164.75 L1265.86,164.00 L1265.83,163.25 L1265.80,162.50 L1265.78,161.75 L1265.75,161.00 L1265.73,160.25 L1265.71,159.50 L1265.69,158.75 L1265.68,158.00 L1265.67,157.25 L1265.66,156.50 L1265.65,155.75 L1265.65,155.00 L1265.65,154.25 L1265.67,153.50 L1265.69,152.75 L1265.71,152.00 L1265.74,151.25 L1265.78,150.50 L1265.82,149.75 L1265.87,149.00 L1265.91,148.25 L1265.97,147.50 L1266.02,146.75 L1266.08,146.00 L1266.13,145.25 L1266.19,144.50 L1266.26,143.75 L1266.34,143.00 L1266.43,142.25 L1266.52,141.50 L1266.63,140.75 L1266.74,140.00 L1266.86,139.25 L1266.99,138.50 L1267.12,137.75 L1267.26,137.00 L1267.40,136.25 L1267.55,135.50 L1267.70,134.75 L1267.86,134.00 L1268.04,133.25 L1268.23,132.50 L1268.43,131.75 L1268.64,131.00 L1268.87,130.25 L1269.10,129.50 L1269.34,128.75 L1269.59,128.00 L1269.85,127.25 L1270.11,126.50 L1270.38,125.75 L1270.65,125.00 L1270.93,124.25 L1271.23,123.50 L1271.54,122.75 L1271.87,122.00 L1272.21,121.25 L1272.56,120.50 L1272.92,119.75 L1273.28,119.00 L1273.65,118.25 L1274.03,117.50 L1274.41,116.75 L1274.79,116.00 L1275.17,115.25 L1275.56,114.50 L1275.95,113.75 L1276.36,113.00 L1276.77,112.25 L1277.19,111.50 L1277.61,110.75 L1278.04,110.00 L1278.47,109.25 L1278.91,108.50 L1279.34,107.75 L1279.77,107.00 L1280.20,106.25 L1280.62,105.50 L1281.04,104.75 L1281.46,104.00 L1281.89,103.25 L1282.33,102.50 L1282.76,101.75 L1283.20,101.00 L1283.63,100.25 L1284.06,99.50 L1284.48,98.75 L1284.89,98.00 L1285.29,97.25 L1285.68,96.50 L1286.05,95.75 L1286.40,95.00 L1286.74,94.25 L1287.07,93.50 L1287.40,92.75 L1287.71,92.00 L1288.02,91.25 L1288.32,90.50 L1288.62,89.75 L1288.91,89.00 L1289.18,88.25 L1289.46,87.50 L1289.72,86.75 L1289.97,86.00 L1290.22,85.25 L1290.46,84.50 L1290.69,83.75 L1290.92,83.00 L1291.14,82.25 L1291.36,81.50 L1291.57,80.75 L1291.78,80.00 L1291.98,79.25 L1292.17,78.50 L1292.36,77.75 L1292.54,77.00 L1292.72,76.25 L1292.89,75.50 L1293.05,74.75 L1293.21,74.00 L1293.37,73.25 L1293.52,72.50 L1293.66,71.75 L1293.80,71.00 L1293.93,70.25 L1294.06,69.50 L1294.18,68.75 L1294.30,68.00Z" fill="#f5f5fa" stroke="#333333" stroke-width="1.2" stroke-linejoin="miter"/>
<path d="M1297.40,68.00V145.75M1297.40,232.00V330.25" stroke="#333333" stroke-width="1.6" fill="none"/>
<rect x="1294.80" y="145.75" width="5.20" height="86.25" fill="#ebeaf4" stroke="#333333" stroke-width="1.6"/>
<path d="M1294.80,182.00H1300.00" stroke="#333333" stroke-width="3.20" fill="none"/>
<circle cx="1297.40" cy="175.00" r="4.3" fill="#9e9ac8" stroke="#bdbdbd" stroke-width="1.75"/>
<path d="M1404.70,168.00 L1404.84,168.75 L1404.98,169.50 L1405.12,170.25 L1405.27,171.00 L1405.41,171.75 L1405.56,172.50 L1405.70,173.25 L1405.85,174.00 L1406.01,174.75 L1406.16,175.50 L1406.31,176.25 L1406.47,177.00 L1406.62,177.75 L1406.78,178.50 L1406.94,179.25 L1407.10,180.00 L1407.26,180.75 L1407.43,181.50 L1407.60,182.25 L1407.77,183.00 L1407.95,183.75 L1408.13,184.50 L1408.30,185.25 L1408.48,186.00 L1408.66,186.75 L1408.84,187.50 L1409.02,188.25 L1409.20,189.00 L1409.38,189.75 L1409.55,190.50 L1409.72,191.25 L1409.89,192.00 L1410.05,192.75 L1410.22,193.50 L1410.38,194.25 L1410.55,195.00 L1410.71,195.75 L1410.88,196.50 L1411.04,197.25 L1411.20,198.00 L1411.36,198.75 L1411.52,199.50 L1411.67,200.25 L1411.83,201.00 L1411.98,201.75 L1412.13,202.50 L1412.27,203.25 L1412.42,204.00 L1412.55,204.75 L1412.69,205.50 L1412.83,206.25 L1412.96,207.00 L1413.09,207.75 L1413.22,208.50 L1413.35,209.25 L1413.48,210.00 L1413.61,210.75 L1413.73,211.50 L1413.85,212.25 L1413.97,213.00 L1414.08,213.75 L1414.20,214.50 L1414.30,215.25 L1414.41,216.00 L1414.51,216.75 L1414.60,217.50 L1414.69,218.25 L1414.78,219.00 L1414.87,219.75 L1414.96,220.50 L1415.05,221.25 L1415.14,222.00 L1415.22,222.75 L1415.30,223.50 L1415.38,224.25 L1415.45,225.00 L1415.53,225.75 L1415.59,226.50 L1415.66,227.25 L1415.72,228.00 L1415.77,228.75 L1415.82,229.50 L1415.86,230.25 L1415.90,231.00 L1415.94,231.75 L1415.98,232.50 L1416.01,233.25 L1416.04,234.00 L1416.07,234.75 L1416.10,235.50 L1416.13,236.25 L1416.15,237.00 L1416.18,237.75 L1416.20,238.50 L1416.23,239.25 L1416.26,240.00 L1416.28,240.75 L1416.31,241.50 L1416.34,242.25 L1416.37,243.00 L1416.40,243.75 L1416.42,244.50 L1416.45,245.25 L1416.48,246.00 L1416.50,246.75 L1416.53,247.50 L1416.55,248.25 L1416.58,249.00 L1416.60,249.75 L1416.63,250.50 L1416.66,251.25 L1416.70,252.00 L1416.73,252.75 L1416.77,253.50 L1416.81,254.25 L1416.85,255.00 L1416.90,255.75 L1416.96,256.50 L1417.02,257.25 L1417.10,258.00 L1417.18,258.75 L1417.26,259.50 L1417.35,260.25 L1417.45,261.00 L1417.55,261.75 L1417.65,262.50 L1417.75,263.25 L1417.86,264.00 L1417.96,264.75 L1418.07,265.50 L1418.18,266.25 L1418.28,267.00 L1418.38,267.75 L1418.49,268.50 L1418.60,269.25 L1418.71,270.00 L1418.83,270.75 L1418.95,271.50 L1419.07,272.25 L1419.19,273.00 L1419.31,273.75 L1419.44,274.50 L1419.56,275.25 L1419.69,276.00 L1419.82,276.75 L1419.94,277.50 L1420.07,278.25 L1420.19,279.00 L1420.31,279.75 L1420.43,280.50 L1420.55,281.25 L1420.67,282.00 L1420.78,282.75 L1420.90,283.50 L1421.02,284.25 L1421.13,285.00 L1421.25,285.75 L1421.37,286.50 L1421.48,287.25 L1421.60,288.00 L1421.72,288.75 L1421.85,289.50 L1421.97,290.25 L1422.09,291.00 L1422.22,291.75 L1422.35,292.50 L1422.48,293.25 L1422.62,294.00 L1422.76,294.75 L1422.91,295.50 L1423.06,296.25 L1423.21,297.00 L1423.36,297.75 L1423.51,298.50 L1423.66,299.25 L1423.81,300.00 L1423.96,300.75 L1424.10,301.50 L1424.25,302.25 L1424.39,303.00 L1424.52,303.75 L1424.65,304.50 L1424.77,305.25 L1424.90,306.00 L1425.02,306.75 L1425.15,307.50 L1425.27,308.25 L1425.39,309.00 L1425.51,309.75 L1425.63,310.50 L1425.74,311.25 L1425.85,312.00 L1425.95,312.75 L1426.05,313.50 L1426.14,314.25 L1426.23,315.00 L1426.30,315.75 L1426.38,316.50 L1426.46,317.25 L1426.53,318.00 L1426.61,318.75 L1426.68,319.50 L1426.76,320.25 L1426.82,321.00 L1426.89,321.75 L1426.94,322.50 L1426.99,323.25 L1427.04,324.00 L1427.07,324.75 L1427.09,325.50 L1427.10,326.25 L1427.10,327.00 L1427.10,327.75 L1427.10,328.50 L1427.10,329.25 L1427.10,330.00 L1427.10,330.75 L1427.10,331.50 L1427.10,332.25 L1427.10,333.00 L1427.10,333.75 L1427.10,334.50 L1427.10,335.25 L1427.10,336.00 L1427.10,336.75 L1427.10,337.50 L1427.09,338.25 L1427.07,339.00 L1427.04,339.75 L1427.00,340.50 L1426.95,341.25 L1426.90,342.00 L1426.83,342.75 L1426.77,343.50 L1426.70,344.25 L1426.62,345.00 L1426.55,345.75 L1426.47,346.50 L1426.39,347.25 L1426.32,348.00 L1426.24,348.75 L1426.16,349.50 L1426.07,350.25 L1425.98,351.00 L1425.87,351.75 L1425.77,352.50 L1425.66,353.25 L1425.54,354.00 L1425.42,354.75 L1425.30,355.50 L1425.17,356.25 L1425.05,357.00 L1424.92,357.75 L1424.79,358.50 L1424.66,359.25 L1424.52,360.00 L1424.38,360.75 L1424.24,361.50 L1424.09,362.25 L1423.93,363.00 L1423.78,363.75 L1423.62,364.50 L1423.45,365.25 L1423.29,366.00 L1423.12,366.75 L1422.94,367.50 L1422.77,368.25 L1422.59,369.00 L1422.41,369.75 L1422.23,370.50 L1422.04,371.25 L1421.85,372.00 L1421.65,372.75 L1421.45,373.50 L1421.24,374.25 L1421.03,375.00 L1420.82,375.75 L1420.61,376.50 L1420.39,377.25 L1420.18,378.00 L1419.96,378.75 L1419.74,379.50 L1419.53,380.25 L1419.31,381.00 L1419.10,381.75 L1418.88,382.50 L1418.66,383.25 L1418.44,384.00 L1418.22,384.75 L1418.00,385.50 L1417.78,386.25 L1417.55,387.00 L1417.33,387.75 L1417.10,388.50 L1416.88,389.25 L1416.65,390.00 L1416.43,390.75 L1416.20,391.50 L1415.97,392.25 L1415.75,393.00 L1415.52,393.75 L1415.29,394.50 L1415.06,395.25 L1414.83,396.00 L1414.59,396.75 L1414.36,397.50 L1414.13,398.25 L1413.90,399.00 L1413.67,399.75 L1413.44,400.50 L1413.22,401.25 L1412.99,402.00 L1412.77,402.75 L1412.54,403.50 L1412.32,404.25 L1412.09,405.00 L1411.87,405.75 L1411.64,406.50 L1411.42,407.25 L1411.20,408.00 L1410.98,408.75 L1410.76,409.50 L1410.54,410.25 L1410.33,411.00 L1410.11,411.75 L1409.90,412.50 L1409.69,413.25 L1409.48,414.00 L1409.27,414.75 L1409.06,415.50 L1408.85,416.25 L1408.64,417.00 L1408.43,417.75 L1408.23,418.50 L1408.02,419.25 L1407.82,420.00 L1407.62,420.75 L1407.43,421.50 L1407.24,422.25 L1407.05,423.00 L1406.86,423.75 L1406.68,424.50 L1406.49,425.25 L1406.31,426.00 L1406.13,426.75 L1405.95,427.50 L1405.77,428.25 L1405.59,429.00 L1405.41,429.75 L1405.25,430.50 L1405.08,431.25 L1404.92,432.00 L1404.77,432.75 L1404.63,433.50 L1404.49,434.25 L1404.37,435.00 L1404.25,435.75 L1404.13,436.50 L1404.01,437.25 L1403.90,438.00 L1403.80,438.75 L1403.70,439.50 L1403.60,440.25 L1403.51,441.00 L1403.43,441.75 L1403.35,442.50 L1403.30,443.00 L1394.90,443.00 L1394.85,442.50 L1394.77,441.75 L1394.69,441.00 L1394.60,440.25 L1394.50,439.50 L1394.40,438.75 L1394.30,438.00 L1394.19,437.25 L1394.07,436.50 L1393.95,435.75 L1393.83,435.00 L1393.71,434.25 L1393.57,433.50 L1393.43,432.75 L1393.28,432.00 L1393.12,431.25 L1392.95,430.50 L1392.79,429.75 L1392.61,429.00 L1392.43,428.25 L1392.25,427.50 L1392.07,426.75 L1391.89,426.00 L1391.71,425.25 L1391.52,424.50 L1391.34,423.75 L1391.15,423.00 L1390.96,422.25 L1390.77,421.50 L1390.58,420.75 L1390.38,420.00 L1390.18,419.25 L1389.97,418.50 L1389.77,417.75 L1389.56,417.00 L1389.35,416.25 L1389.14,415.50 L1388.93,414.75 L1388.72,414.00 L1388.51,413.25 L1388.30,412.50 L1388.09,411.75 L1387.87,411.00 L1387.66,410.25 L1387.44,409.50 L1387.22,408.75 L1387.00,408.00 L1386.78,407.25 L1386.56,406.50 L1386.33,405.75 L1386.11,405.00 L1385.88,404.25 L1385.66,403.50 L1385.43,402.75 L1385.21,402.00 L1384.98,401.25 L1384.76,400.50 L1384.53,399.75 L1384.30,399.00 L1384.07,398.25 L1383.84,397.50 L1383.61,396.75 L1383.37,396.00 L1383.14,395.25 L1382.91,394.50 L1382.68,393.75 L1382.45,393.00 L1382.23,392.25 L1382.00,391.50 L1381.77,390.75 L1381.55,390.00 L1381.32,389.25 L1381.10,388.50 L1380.87,387.75 L1380.65,387.00 L1380.42,386.25 L1380.20,385.50 L1379.98,384.75 L1379.76,384.00 L1379.54,383.25 L1379.32,382.50 L1379.10,381.75 L1378.89,381.00 L1378.67,380.25 L1378.46,379.50 L1378.24,378.75 L1378.02,378.00 L1377.81,377.25 L1377.59,376.50 L1377.38,375.75 L1377.17,375.00 L1376.96,374.25 L1376.75,373.50 L1376.55,372.75 L1376.35,372.00 L1376.16,371.25 L1375.97,370.50 L1375.79,369.75 L1375.61,369.00 L1375.43,368.25 L1375.26,367.50 L1375.08,366.75 L1374.91,366.00 L1374.75,365.25 L1374.58,364.50 L1374.42,363.75 L1374.27,363.00 L1374.11,362.25 L1373.96,361.50 L1373.82,360.75 L1373.68,360.00 L1373.54,359.25 L1373.41,358.50 L1373.28,357.75 L1373.15,357.00 L1373.03,356.25 L1372.90,355.50 L1372.78,354.75 L1372.66,354.00 L1372.54,353.25 L1372.43,352.50 L1372.33,351.75 L1372.22,351.00 L1372.13,350.25 L1372.04,349.50 L1371.96,348.75 L1371.88,348.00 L1371.81,347.25 L1371.73,346.50 L1371.65,345.75 L1371.58,345.00 L1371.50,344.25 L1371.43,343.50 L1371.37,342.75 L1371.30,342.00 L1371.25,341.25 L1371.20,340.50 L1371.16,339.75 L1371.13,339.00 L1371.11,338.25 L1371.10,337.50 L1371.10,336.75 L1371.10,336.00 L1371.10,335.25 L1371.10,334.50 L1371.10,333.75 L1371.10,333.00 L1371.10,332.25 L1371.10,331.50 L1371.10,330.75 L1371.10,330.00 L1371.10,329.25 L1371.10,328.50 L1371.10,327.75 L1371.10,327.00 L1371.10,326.25 L1371.11,325.50 L1371.13,324.75 L1371.16,324.00 L1371.21,323.25 L1371.26,322.50 L1371.31,321.75 L1371.38,321.00 L1371.44,320.25 L1371.52,319.50 L1371.59,318.75 L1371.67,318.00 L1371.74,317.25 L1371.82,316.50 L1371.90,315.75 L1371.97,315.00 L1372.06,314.25 L1372.15,313.50 L1372.25,312.75 L1372.35,312.00 L1372.46,311.25 L1372.57,310.50 L1372.69,309.75 L1372.81,309.00 L1372.93,308.25 L1373.05,307.50 L1373.18,306.75 L1373.30,306.00 L1373.43,305.25 L1373.55,304.50 L1373.68,303.75 L1373.81,303.00 L1373.95,302.25 L1374.10,301.50 L1374.24,300.75 L1374.39,300.00 L1374.54,299.25 L1374.69,298.50 L1374.84,297.75 L1374.99,297.00 L1375.14,296.25 L1375.29,295.50 L1375.44,294.75 L1375.58,294.00 L1375.72,293.25 L1375.85,292.50 L1375.98,291.75 L1376.11,291.00 L1376.23,290.25 L1376.35,289.50 L1376.48,288.75 L1376.60,288.00 L1376.72,287.25 L1376.83,286.50 L1376.95,285.75 L1377.07,285.00 L1377.18,284.25 L1377.30,283.50 L1377.42,282.75 L1377.53,282.00 L1377.65,281.25 L1377.77,280.50 L1377.89,279.75 L1378.01,279.00 L1378.13,278.25 L1378.26,277.50 L1378.38,276.75 L1378.51,276.00 L1378.64,275.25 L1378.76,274.50 L1378.89,273.75 L1379.01,273.00 L1379.13,272.25 L1379.25,271.50 L1379.37,270.75 L1379.49,270.00 L1379.60,269.25 L1379.71,268.50 L1379.82,267.75 L1379.92,267.00 L1380.02,266.25 L1380.13,265.50 L1380.24,264.75 L1380.34,264.00 L1380.45,263.25 L1380.55,262.50 L1380.65,261.75 L1380.75,261.00 L1380.85,260.25 L1380.94,259.50 L1381.02,258.75 L1381.10,258.00 L1381.18,257.25 L1381.24,256.50 L1381.30,255.75 L1381.35,255.00 L1381.39,254.25 L1381.43,253.50 L1381.47,252.75 L1381.50,252.00 L1381.54,251.25 L1381.57,250.50 L1381.60,249.75 L1381.62,249.00 L1381.65,248.25 L1381.67,247.50 L1381.70,246.75 L1381.72,246.00 L1381.75,245.25 L1381.78,244.50 L1381.80,243.75 L1381.83,243.00 L1381.86,242.25 L1381.89,241.50 L1381.92,240.75 L1381.94,240.00 L1381.97,239.25 L1382.00,238.50 L1382.02,237.75 L1382.05,237.00 L1382.07,236.25 L1382.10,235.50 L1382.13,234.75 L1382.16,234.00 L1382.19,233.25 L1382.22,232.50 L1382.26,231.75 L1382.30,231.00 L1382.34,230.25 L1382.38,229.50 L1382.43,228.75 L1382.48,228.00 L1382.54,227.25 L1382.61,226.50 L1382.67,225.75 L1382.75,225.00 L1382.82,224.25 L1382.90,223.50 L1382.98,222.75 L1383.06,222.00 L1383.15,221.25 L1383.24,220.50 L1383.33,219.75 L1383.42,219.00 L1383.51,218.25 L1383.60,217.50 L1383.69,216.75 L1383.79,216.00 L1383.90,215.25 L1384.00,214.50 L1384.12,213.75 L1384.23,213.00 L1384.35,212.25 L1384.47,211.50 L1384.59,210.75 L1384.72,210.00 L1384.85,209.25 L1384.98,208.50 L1385.11,207.75 L1385.24,207.00 L1385.37,206.25 L1385.51,205.50 L1385.65,204.75 L1385.78,204.00 L1385.93,203.25 L1386.07,202.50 L1386.22,201.75 L1386.37,201.00 L1386.53,200.25 L1386.68,199.50 L1386.84,198.75 L1387.00,198.00 L1387.16,197.25 L1387.32,196.50 L1387.49,195.75 L1387.65,195.00 L1387.82,194.25 L1387.98,193.50 L1388.15,192.75 L1388.31,192.00 L1388.48,191.25 L1388.65,190.50 L1388.82,189.75 L1389.00,189.00 L1389.18,188.25 L1389.36,187.50 L1389.54,186.75 L1389.72,186.00 L1389.90,185.25 L1390.07,184.50 L1390.25,183.75 L1390.43,183.00 L1390.60,182.25 L1390.77,181.50 L1390.94,180.75 L1391.10,180.00 L1391.26,179.25 L1391.42,178.50 L1391.58,177.75 L1391.73,177.00 L1391.89,176.25 L1392.04,175.50 L1392.19,174.75 L1392.35,174.00 L1392.50,173.25 L1392.64,172.50 L1392.79,171.75 L1392.93,171.00 L1393.08,170.25 L1393.22,169.50 L1393.36,168.75 L1393.50,168.00Z" fill="#f1f0f7" stroke="#333333" stroke-width="1.2" stroke-linejoin="miter"/>
<path d="M1399.10,168.00V262.50M1399.10,360.40V443.00" stroke="#333333" stroke-width="1.6" fill="none"/>
<rect x="1396.50" y="262.50" width="5.20" height="97.90" fill="#e2e0ef" stroke="#333333" stroke-width="1.6"/>
<path d="M1396.50,318.40H1401.70" stroke="#333333" stroke-width="3.20" fill="none"/>
<circle cx="1399.10" cy="302.90" r="4.3" fill="#756bb1" stroke="#bdbdbd" stroke-width="1.75"/>
<path d="M1504.80,191.30 L1504.94,192.05 L1505.07,192.80 L1505.20,193.55 L1505.33,194.30 L1505.45,195.05 L1505.57,195.80 L1505.68,196.55 L1505.79,197.30 L1505.89,198.05 L1505.98,198.80 L1506.07,199.55 L1506.16,200.30 L1506.23,201.05 L1506.31,201.80 L1506.39,202.55 L1506.46,203.30 L1506.54,204.05 L1506.61,204.80 L1506.68,205.55 L1506.74,206.30 L1506.80,207.05 L1506.85,207.80 L1506.90,208.55 L1506.94,209.30 L1506.97,210.05 L1506.99,210.80 L1507.01,211.55 L1507.03,212.30 L1507.05,213.05 L1507.07,213.80 L1507.08,214.55 L1507.10,215.30 L1507.11,216.05 L1507.13,216.80 L1507.14,217.55 L1507.15,218.30 L1507.16,219.05 L1507.17,219.80 L1507.18,220.55 L1507.19,221.30 L1507.19,222.05 L1507.20,222.80 L1507.20,223.55 L1507.20,224.30 L1507.20,225.05 L1507.20,225.80 L1507.20,226.55 L1507.20,227.30 L1507.20,228.05 L1507.20,228.80 L1507.20,229.55 L1507.20,230.30 L1507.20,231.05 L1507.20,231.80 L1507.20,232.55 L1507.20,233.30 L1507.20,234.05 L1507.20,234.80 L1507.20,235.55 L1507.20,236.30 L1507.20,237.05 L1507.20,237.80 L1507.20,238.55 L1507.20,239.30 L1507.21,240.05 L1507.22,240.80 L1507.23,241.55 L1507.24,242.30 L1507.25,243.05 L1507.27,243.80 L1507.29,244.55 L1507.31,245.30 L1507.33,246.05 L1507.35,246.80 L1507.37,247.55 L1507.39,248.30 L1507.42,249.05 L1507.44,249.80 L1507.46,250.55 L1507.49,251.30 L1507.51,252.05 L1507.54,252.80 L1507.57,253.55 L1507.60,254.30 L1507.63,255.05 L1507.67,255.80 L1507.71,256.55 L1507.74,257.30 L1507.79,258.05 L1507.83,258.80 L1507.87,259.55 L1507.91,260.30 L1507.96,261.05 L1508.00,261.80 L1508.05,262.55 L1508.09,263.30 L1508.13,264.05 L1508.18,264.80 L1508.22,265.55 L1508.26,266.30 L1508.30,267.05 L1508.34,267.80 L1508.39,268.55 L1508.43,269.30 L1508.47,270.05 L1508.52,270.80 L1508.56,271.55 L1508.60,272.30 L1508.65,273.05 L1508.69,273.80 L1508.74,274.55 L1508.78,275.30 L1508.83,276.05 L1508.88,276.80 L1508.92,277.55 L1508.97,278.30 L1509.02,279.05 L1509.06,279.80 L1509.11,280.55 L1509.16,281.30 L1509.21,282.05 L1509.25,282.80 L1509.30,283.55 L1509.35,284.30 L1509.40,285.05 L1509.45,285.80 L1509.50,286.55 L1509.55,287.30 L1509.60,288.05 L1509.65,288.80 L1509.70,289.55 L1509.76,290.30 L1509.81,291.05 L1509.86,291.80 L1509.92,292.55 L1509.97,293.30 L1510.03,294.05 L1510.09,294.80 L1510.15,295.55 L1510.21,296.30 L1510.27,297.05 L1510.33,297.80 L1510.39,298.55 L1510.45,299.30 L1510.52,300.05 L1510.58,300.80 L1510.64,301.55 L1510.70,302.30 L1510.77,303.05 L1510.83,303.80 L1510.89,304.55 L1510.95,305.30 L1511.01,306.05 L1511.07,306.80 L1511.13,307.55 L1511.20,308.30 L1511.26,309.05 L1511.32,309.80 L1511.38,310.55 L1511.44,311.30 L1511.50,312.05 L1511.56,312.80 L1511.62,313.55 L1511.68,314.30 L1511.75,315.05 L1511.81,315.80 L1511.87,316.55 L1511.93,317.30 L1511.99,318.05 L1512.05,318.80 L1512.11,319.55 L1512.17,320.30 L1512.23,321.05 L1512.29,321.80 L1512.35,322.55 L1512.41,323.30 L1512.47,324.05 L1512.53,324.80 L1512.59,325.55 L1512.65,326.30 L1512.71,327.05 L1512.77,327.80 L1512.83,328.55 L1512.89,329.30 L1512.95,330.05 L1513.01,330.80 L1513.08,331.55 L1513.14,332.30 L1513.20,333.05 L1513.27,333.80 L1513.33,334.55 L1513.39,335.30 L1513.46,336.05 L1513.52,336.80 L1513.58,337.55 L1513.65,338.30 L1513.71,339.05 L1513.78,339.80 L1513.85,340.55 L1513.92,341.30 L1514.00,342.05 L1514.08,342.80 L1514.16,343.55 L1514.25,344.30 L1514.34,345.05 L1514.45,345.80 L1514.56,346.55 L1514.69,347.30 L1514.83,348.05 L1514.97,348.80 L1515.12,349.55 L1515.28,350.30 L1515.45,351.05 L1515.61,351.80 L1515.78,352.55 L1515.95,353.30 L1516.12,354.05 L1516.29,354.80 L1516.46,355.55 L1516.62,356.30 L1516.78,357.05 L1516.94,357.80 L1517.11,358.55 L1517.27,359.30 L1517.44,360.05 L1517.61,360.80 L1517.77,361.55 L1517.94,362.30 L1518.11,363.05 L1518.29,363.80 L1518.46,364.55 L1518.63,365.30 L1518.81,366.05 L1518.98,366.80 L1519.16,367.55 L1519.34,368.30 L1519.52,369.05 L1519.70,369.80 L1519.89,370.55 L1520.07,371.30 L1520.26,372.05 L1520.45,372.80 L1520.64,373.55 L1520.82,374.30 L1521.01,375.05 L1521.20,375.80 L1521.39,376.55 L1521.58,377.30 L1521.76,378.05 L1521.95,378.80 L1522.13,379.55 L1522.32,380.30 L1522.50,381.05 L1522.68,381.80 L1522.87,382.55 L1523.05,383.30 L1523.23,384.05 L1523.42,384.80 L1523.60,385.55 L1523.79,386.30 L1523.97,387.05 L1524.15,387.80 L1524.34,388.55 L1524.53,389.30 L1524.71,390.05 L1524.90,390.80 L1525.09,391.55 L1525.28,392.30 L1525.46,393.05 L1525.65,393.80 L1525.84,394.55 L1526.03,395.30 L1526.22,396.05 L1526.41,396.80 L1526.60,397.55 L1526.79,398.30 L1526.98,399.05 L1527.17,399.80 L1527.36,400.55 L1527.55,401.30 L1527.74,402.05 L1527.94,402.80 L1528.14,403.55 L1528.33,404.30 L1528.53,405.05 L1528.72,405.80 L1528.92,406.55 L1529.11,407.30 L1529.30,408.05 L1529.49,408.80 L1529.68,409.55 L1529.86,410.30 L1530.03,411.05 L1530.20,411.80 L1530.37,412.55 L1530.53,413.30 L1530.70,414.05 L1530.86,414.80 L1531.02,415.55 L1531.18,416.30 L1531.33,417.05 L1531.48,417.80 L1531.63,418.55 L1531.78,419.30 L1531.92,420.05 L1532.05,420.80 L1532.18,421.55 L1532.31,422.30 L1532.42,423.05 L1532.54,423.80 L1532.67,424.55 L1532.80,425.30 L1532.92,426.05 L1533.05,426.80 L1533.17,427.55 L1533.29,428.30 L1533.40,429.05 L1533.50,429.80 L1533.59,430.55 L1533.67,431.30 L1533.73,432.05 L1533.77,432.80 L1533.80,433.55 L1533.80,434.30 L1533.80,435.05 L1533.80,435.80 L1533.80,436.55 L1533.80,437.30 L1533.80,438.05 L1533.80,438.80 L1533.80,439.55 L1533.80,440.30 L1533.80,441.05 L1533.80,441.80 L1533.80,442.55 L1533.77,443.30 L1533.71,444.05 L1533.62,444.80 L1533.50,445.55 L1533.37,446.30 L1533.22,447.05 L1533.06,447.80 L1532.89,448.55 L1532.72,449.30 L1532.55,450.05 L1532.38,450.80 L1532.20,451.55 L1532.00,452.30 L1531.78,453.05 L1531.55,453.80 L1531.31,454.55 L1531.05,455.30 L1530.78,456.05 L1530.50,456.80 L1530.21,457.55 L1529.91,458.30 L1529.62,459.05 L1529.31,459.80 L1529.01,460.55 L1528.70,461.30 L1528.40,462.05 L1528.08,462.80 L1527.76,463.55 L1527.42,464.30 L1527.07,465.05 L1526.72,465.80 L1526.35,466.55 L1525.99,467.30 L1525.62,468.05 L1525.24,468.80 L1524.86,469.55 L1524.49,470.30 L1524.11,471.05 L1523.74,471.80 L1523.37,472.55 L1523.01,473.30 L1522.64,474.05 L1522.27,474.80 L1521.90,475.55 L1521.53,476.30 L1521.16,477.05 L1520.79,477.80 L1520.42,478.55 L1520.04,479.30 L1519.67,480.05 L1519.30,480.80 L1518.93,481.55 L1518.55,482.30 L1518.18,483.05 L1517.80,483.80 L1517.43,484.55 L1517.05,485.30 L1516.68,486.05 L1516.30,486.80 L1484.90,486.80 L1484.52,486.05 L1484.15,485.30 L1483.77,484.55 L1483.40,483.80 L1483.02,483.05 L1482.65,482.30 L1482.27,481.55 L1481.90,480.80 L1481.53,480.05 L1481.16,479.30 L1480.78,478.55 L1480.41,477.80 L1480.04,477.05 L1479.67,476.30 L1479.30,475.55 L1478.93,474.80 L1478.56,474.05 L1478.19,473.30 L1477.83,472.55 L1477.46,471.80 L1477.09,471.05 L1476.71,470.30 L1476.34,469.55 L1475.96,468.80 L1475.58,468.05 L1475.21,467.30 L1474.85,466.55 L1474.48,465.80 L1474.13,465.05 L1473.78,464.30 L1473.44,463.55 L1473.12,462.80 L1472.80,462.05 L1472.50,461.30 L1472.19,460.55 L1471.89,459.80 L1471.58,459.05 L1471.29,458.30 L1470.99,457.55 L1470.70,456.80 L1470.42,456.05 L1470.15,455.30 L1469.89,454.55 L1469.65,453.80 L1469.42,453.05 L1469.20,452.30 L1469.00,451.55 L1468.82,450.80 L1468.65,450.05 L1468.48,449.30 L1468.31,448.55 L1468.14,447.80 L1467.98,447.05 L1467.83,446.30 L1467.70,445.55 L1467.58,444.80 L1467.49,444.05 L1467.43,443.30 L1467.40,442.55 L1467.40,441.80 L1467.40,441.05 L1467.40,440.30 L1467.40,439.55 L1467.40,438.80 L1467.40,438.05 L1467.40,437.30 L1467.40,436.55 L1467.40,435.80 L1467.40,435.05 L1467.40,434.30 L1467.40,433.55 L1467.43,432.80 L1467.47,432.05 L1467.53,431.30 L1467.61,430.55 L1467.70,429.80 L1467.80,429.05 L1467.91,428.30 L1468.03,427.55 L1468.15,426.80 L1468.28,426.05 L1468.40,425.30 L1468.53,424.55 L1468.66,423.80 L1468.78,423.05 L1468.89,422.30 L1469.02,421.55 L1469.15,420.80 L1469.28,420.05 L1469.42,419.30 L1469.57,418.55 L1469.72,417.80 L1469.87,417.05 L1470.02,416.30 L1470.18,415.55 L1470.34,414.80 L1470.50,414.05 L1470.67,413.30 L1470.83,412.55 L1471.00,411.80 L1471.17,411.05 L1471.34,410.30 L1471.52,409.55 L1471.71,408.80 L1471.90,408.05 L1472.09,407.30 L1472.28,406.55 L1472.48,405.80 L1472.67,405.05 L1472.87,404.30 L1473.06,403.55 L1473.26,402.80 L1473.46,402.05 L1473.65,401.30 L1473.84,400.55 L1474.03,399.80 L1474.22,399.05 L1474.41,398.30 L1474.60,397.55 L1474.79,396.80 L1474.98,396.05 L1475.17,395.30 L1475.36,394.55 L1475.55,393.80 L1475.74,393.05 L1475.92,392.30 L1476.11,391.55 L1476.30,390.80 L1476.49,390.05 L1476.67,389.30 L1476.86,388.55 L1477.05,387.80 L1477.23,387.05 L1477.41,386.30 L1477.60,385.55 L1477.78,384.80 L1477.97,384.05 L1478.15,383.30 L1478.33,382.55 L1478.52,381.80 L1478.70,381.05 L1478.88,380.30 L1479.07,379.55 L1479.25,378.80 L1479.44,378.05 L1479.62,377.30 L1479.81,376.55 L1480.00,375.80 L1480.19,375.05 L1480.38,374.30 L1480.56,373.55 L1480.75,372.80 L1480.94,372.05 L1481.13,371.30 L1481.31,370.55 L1481.50,369.80 L1481.68,369.05 L1481.86,368.30 L1482.04,367.55 L1482.22,366.80 L1482.39,366.05 L1482.57,365.30 L1482.74,364.55 L1482.91,363.80 L1483.09,363.05 L1483.26,362.30 L1483.43,361.55 L1483.59,360.80 L1483.76,360.05 L1483.93,359.30 L1484.09,358.55 L1484.26,357.80 L1484.42,357.05 L1484.58,356.30 L1484.74,355.55 L1484.91,354.80 L1485.08,354.05 L1485.25,353.30 L1485.42,352.55 L1485.59,351.80 L1485.75,351.05 L1485.92,350.30 L1486.08,349.55 L1486.23,348.80 L1486.37,348.05 L1486.51,347.30 L1486.64,346.55 L1486.75,345.80 L1486.86,345.05 L1486.95,344.30 L1487.04,343.55 L1487.12,342.80 L1487.20,342.05 L1487.28,341.30 L1487.35,340.55 L1487.42,339.80 L1487.49,339.05 L1487.55,338.30 L1487.62,337.55 L1487.68,336.80 L1487.74,336.05 L1487.81,335.30 L1487.87,334.55 L1487.93,333.80 L1488.00,333.05 L1488.06,332.30 L1488.12,331.55 L1488.19,330.80 L1488.25,330.05 L1488.31,329.30 L1488.37,328.55 L1488.43,327.80 L1488.49,327.05 L1488.55,326.30 L1488.61,325.55 L1488.67,324.80 L1488.73,324.05 L1488.79,323.30 L1488.85,322.55 L1488.91,321.80 L1488.97,321.05 L1489.03,320.30 L1489.09,319.55 L1489.15,318.80 L1489.21,318.05 L1489.27,317.30 L1489.33,316.55 L1489.39,315.80 L1489.45,315.05 L1489.52,314.30 L1489.58,313.55 L1489.64,312.80 L1489.70,312.05 L1489.76,311.30 L1489.82,310.55 L1489.88,309.80 L1489.94,309.05 L1490.00,308.30 L1490.07,307.55 L1490.13,306.80 L1490.19,306.05 L1490.25,305.30 L1490.31,304.55 L1490.37,303.80 L1490.43,303.05 L1490.50,302.30 L1490.56,301.55 L1490.62,300.80 L1490.68,300.05 L1490.75,299.30 L1490.81,298.55 L1490.87,297.80 L1490.93,297.05 L1490.99,296.30 L1491.05,295.55 L1491.11,294.80 L1491.17,294.05 L1491.23,293.30 L1491.28,292.55 L1491.34,291.80 L1491.39,291.05 L1491.44,290.30 L1491.50,289.55 L1491.55,288.80 L1491.60,288.05 L1491.65,287.30 L1491.70,286.55 L1491.75,285.80 L1491.80,285.05 L1491.85,284.30 L1491.90,283.55 L1491.95,282.80 L1491.99,282.05 L1492.04,281.30 L1492.09,280.55 L1492.14,279.80 L1492.18,279.05 L1492.23,278.30 L1492.28,277.55 L1492.32,276.80 L1492.37,276.05 L1492.42,275.30 L1492.46,274.55 L1492.51,273.80 L1492.55,273.05 L1492.60,272.30 L1492.64,271.55 L1492.68,270.80 L1492.73,270.05 L1492.77,269.30 L1492.81,268.55 L1492.86,267.80 L1492.90,267.05 L1492.94,266.30 L1492.98,265.55 L1493.02,264.80 L1493.07,264.05 L1493.11,263.30 L1493.15,262.55 L1493.20,261.80 L1493.24,261.05 L1493.29,260.30 L1493.33,259.55 L1493.37,258.80 L1493.41,258.05 L1493.46,257.30 L1493.49,256.55 L1493.53,255.80 L1493.57,255.05 L1493.60,254.30 L1493.63,253.55 L1493.66,252.80 L1493.69,252.05 L1493.71,251.30 L1493.74,250.55 L1493.76,249.80 L1493.78,249.05 L1493.81,248.30 L1493.83,247.55 L1493.85,246.80 L1493.87,246.05 L1493.89,245.30 L1493.91,244.55 L1493.93,243.80 L1493.95,243.05 L1493.96,242.30 L1493.97,241.55 L1493.98,240.80 L1493.99,240.05 L1494.00,239.30 L1494.00,238.55 L1494.00,237.80 L1494.00,237.05 L1494.00,236.30 L1494.00,235.55 L1494.00,234.80 L1494.00,234.05 L1494.00,233.30 L1494.00,232.55 L1494.00,231.80 L1494.00,231.05 L1494.00,230.30 L1494.00,229.55 L1494.00,228.80 L1494.00,228.05 L1494.00,227.30 L1494.00,226.55 L1494.00,225.80 L1494.00,225.05 L1494.00,224.30 L1494.00,223.55 L1494.00,222.80 L1494.01,222.05 L1494.01,221.30 L1494.02,220.55 L1494.03,219.80 L1494.04,219.05 L1494.05,218.30 L1494.06,217.55 L1494.07,216.80 L1494.09,216.05 L1494.10,215.30 L1494.12,214.55 L1494.13,213.80 L1494.15,213.05 L1494.17,212.30 L1494.19,211.55 L1494.21,210.80 L1494.23,210.05 L1494.26,209.30 L1494.30,208.55 L1494.35,207.80 L1494.40,207.05 L1494.46,206.30 L1494.52,205.55 L1494.59,204.80 L1494.66,204.05 L1494.74,203.30 L1494.81,202.55 L1494.89,201.80 L1494.97,201.05 L1495.04,200.30 L1495.13,199.55 L1495.22,198.80 L1495.31,198.05 L1495.41,197.30 L1495.52,196.55 L1495.63,195.80 L1495.75,195.05 L1495.87,194.30 L1496.00,193.55 L1496.13,192.80 L1496.26,192.05 L1496.40,191.30Z" fill="#eee9f4" stroke="#333333" stroke-width="1.2" stroke-linejoin="miter"/>
<path d="M1500.60,208.90V347.30M1500.60,450.10V486.80" stroke="#333333" stroke-width="1.6" fill="none"/>
<rect x="1498.00" y="347.30" width="5.20" height="102.80" fill="#dbd2e8" stroke="#333333" stroke-width="1.6"/>
<path d="M1498.00,413.70H1503.20" stroke="#333333" stroke-width="3.20" fill="none"/>
<circle cx="1500.60" cy="401.75" r="4.3" fill="#54278f" stroke="#bdbdbd" stroke-width="1.75"/>
<path d="M931.60,47.20V510.00" stroke="#000" stroke-width="2.7" fill="none"/>
<path d="M931.60,510.00H1561.80" stroke="#000" stroke-width="2.7" fill="none"/>
<path d="M926.15,148.00H930.55" stroke="#333333" stroke-width="2.7" fill="none"/>
<text x="921.80" y="154.80" font-size="17.8" fill="#4d4d4d" stroke="#4d4d4d" stroke-width="0.3" text-anchor="end">90</text>
<path d="M926.15,266.50H930.55" stroke="#333333" stroke-width="2.7" fill="none"/>
<text x="921.80" y="273.30" font-size="17.8" fill="#4d4d4d" stroke="#4d4d4d" stroke-width="0.3" text-anchor="end">60</text>
<path d="M926.15,385.00H930.55" stroke="#333333" stroke-width="2.7" fill="none"/>
<text x="921.80" y="391.80" font-size="17.8" fill="#4d4d4d" stroke="#4d4d4d" stroke-width="0.3" text-anchor="end">30</text>
<path d="M926.15,503.50H930.55" stroke="#333333" stroke-width="2.7" fill="none"/>
<text x="921.80" y="510.30" font-size="17.8" fill="#4d4d4d" stroke="#4d4d4d" stroke-width="0.3" text-anchor="end">0</text>
<path d="M992.59,511.05V515.55" stroke="#333333" stroke-width="2.7" fill="none"/>
<text x="992.59" y="532.90" font-size="17.8" fill="#4d4d4d" stroke="#4d4d4d" stroke-width="0.3" text-anchor="middle">Day1-G</text>
<path d="M1094.23,511.05V515.55" stroke="#333333" stroke-width="2.7" fill="none"/>
<text x="1094.23" y="532.90" font-size="17.8" fill="#4d4d4d" stroke="#4d4d4d" stroke-width="0.3" text-anchor="middle">Day3-G</text>
<path d="M1195.88,511.05V515.55" stroke="#333333" stroke-width="2.7" fill="none"/>
<text x="1195.88" y="532.90" font-size="17.8" fill="#4d4d4d" stroke="#4d4d4d" stroke-width="0.3" text-anchor="middle">Day5-G</text>
<path d="M1297.52,511.05V515.55" stroke="#333333" stroke-width="2.7" fill="none"/>
<text x="1297.52" y="532.90" font-size="17.8" fill="#4d4d4d" stroke="#4d4d4d" stroke-width="0.3" text-anchor="middle">Day1-Q</text>
<path d="M1399.17,511.05V515.55" stroke="#333333" stroke-width="2.7" fill="none"/>
<text x="1399.17" y="532.90" font-size="17.8" fill="#4d4d4d" stroke="#4d4d4d" stroke-width="0.3" text-anchor="middle">Day3-Q</text>
<path d="M1500.81,511.05V515.55" stroke="#333333" stroke-width="2.7" fill="none"/>
<text x="1500.81" y="532.90" font-size="17.8" fill="#4d4d4d" stroke="#4d4d4d" stroke-width="0.3" text-anchor="middle">Day5-Q</text>
<text x="932.40" y="30.90" font-size="27.0" fill="#000" stroke="#000" stroke-width="0.4" text-anchor="start">H441</text>
<text x="1246.70" y="559.70" font-size="22.7" fill="#000" stroke="#000" stroke-width="0.4" text-anchor="middle">days of nutrient deprivation</text>
<text x="891.40" y="278.60" font-size="22.7" fill="#000" stroke="#000" stroke-width="0.4" text-anchor="middle" transform="rotate(-90 891.40 278.60)">% remain</text>
<rect x="1595.45" y="191.45" width="33.10" height="33.10" fill="#f0f7fb" stroke="#333333" stroke-width="1.2"/>
<path d="M1612.00,194.18V199.36M1612.00,216.64V221.82" stroke="#333333" stroke-width="1.6" fill="none"/>
<rect x="1599.04" y="199.36" width="25.92" height="17.28" fill="#e0eef6" stroke="#333333" stroke-width="1.6"/>
<path d="M1599.04,208.00H1624.96" stroke="#333333" stroke-width="1.6" fill="none"/>
<circle cx="1612.00" cy="208.00" r="4.3" fill="#6baed6" stroke="#bdbdbd" stroke-width="1.75"/>
<text x="1640.10" y="214.75" font-size="17.8" fill="#000" stroke="#000" stroke-width="0.3" text-anchor="start">Day1-G</text>
<rect x="1595.45" y="226.01" width="33.10" height="33.10" fill="#eaf2f8" stroke="#333333" stroke-width="1.2"/>
<path d="M1612.00,228.74V233.92M1612.00,251.20V256.38" stroke="#333333" stroke-width="1.6" fill="none"/>
<rect x="1599.04" y="233.92" width="25.92" height="17.28" fill="#d4e5f1" stroke="#333333" stroke-width="1.6"/>
<path d="M1599.04,242.56H1624.96" stroke="#333333" stroke-width="1.6" fill="none"/>
<circle cx="1612.00" cy="242.56" r="4.3" fill="#3182bd" stroke="#bdbdbd" stroke-width="1.75"/>
<text x="1640.10" y="249.31" font-size="17.8" fill="#000" stroke="#000" stroke-width="0.3" text-anchor="start">Day3-G</text>
<rect x="1595.45" y="260.57" width="33.10" height="33.10" fill="#e6eef5" stroke="#333333" stroke-width="1.2"/>
<path d="M1612.00,263.30V268.48M1612.00,285.76V290.94" stroke="#333333" stroke-width="1.6" fill="none"/>
<rect x="1599.04" y="268.48" width="25.92" height="17.28" fill="#ccdbea" stroke="#333333" stroke-width="1.6"/>
<path d="M1599.04,277.12H1624.96" stroke="#333333" stroke-width="1.6" fill="none"/>
<circle cx="1612.00" cy="277.12" r="4.3" fill="#08519c" stroke="#bdbdbd" stroke-width="1.75"/>
<text x="1640.10" y="283.87" font-size="17.8" fill="#000" stroke="#000" stroke-width="0.3" text-anchor="start">Day5-G</text>
<rect x="1595.45" y="295.13" width="33.10" height="33.10" fill="#f5f5fa" stroke="#333333" stroke-width="1.2"/>
<path d="M1612.00,297.86V303.04M1612.00,320.32V325.50" stroke="#333333" stroke-width="1.6" fill="none"/>
<rect x="1599.04" y="303.04" width="25.92" height="17.28" fill="#ebeaf4" stroke="#333333" stroke-width="1.6"/>
<path d="M1599.04,311.68H1624.96" stroke="#333333" stroke-width="1.6" fill="none"/>
<circle cx="1612.00" cy="311.68" r="4.3" fill="#9e9ac8" stroke="#bdbdbd" stroke-width="1.75"/>
<text x="1640.10" y="318.43" font-size="17.8" fill="#000" stroke="#000" stroke-width="0.3" text-anchor="start">Day1-Q</text>
<rect x="1595.45" y="329.69" width="33.10" height="33.10" fill="#f1f0f7" stroke="#333333" stroke-width="1.2"/>
<path d="M1612.00,332.42V337.60M1612.00,354.88V360.06" stroke="#333333" stroke-width="1.6" fill="none"/>
<rect x="1599.04" y="337.60" width="25.92" height="17.28" fill="#e2e0ef" stroke="#333333" stroke-width="1.6"/>
<path d="M1599.04,346.24H1624.96" stroke="#333333" stroke-width="1.6" fill="none"/>
<circle cx="1612.00" cy="346.24" r="4.3" fill="#756bb1" stroke="#bdbdbd" stroke-width="1.75"/>
<text x="1640.10" y="352.99" font-size="17.8" fill="#000" stroke="#000" stroke-width="0.3" text-anchor="start">Day3-Q</text>
<rect x="1595.45" y="364.25" width="33.10" height="33.10" fill="#eee9f4" stroke="#333333" stroke-width="1.2"/>
<path d="M1612.00,366.98V372.16M1612.00,389.44V394.62" stroke="#333333" stroke-width="1.6" fill="none"/>
<rect x="1599.04" y="372.16" width="25.92" height="17.28" fill="#dbd2e8" stroke="#333333" stroke-width="1.6"/>
<path d="M1599.04,380.80H1624.96" stroke="#333333" stroke-width="1.6" fill="none"/>
<circle cx="1612.00" cy="380.80" r="4.3" fill="#54278f" stroke="#bdbdbd" stroke-width="1.75"/>
<text x="1640.10" y="387.55" font-size="17.8" fill="#000" stroke="#000" stroke-width="0.3" text-anchor="start">Day5-Q</text>
</svg></body></html>
